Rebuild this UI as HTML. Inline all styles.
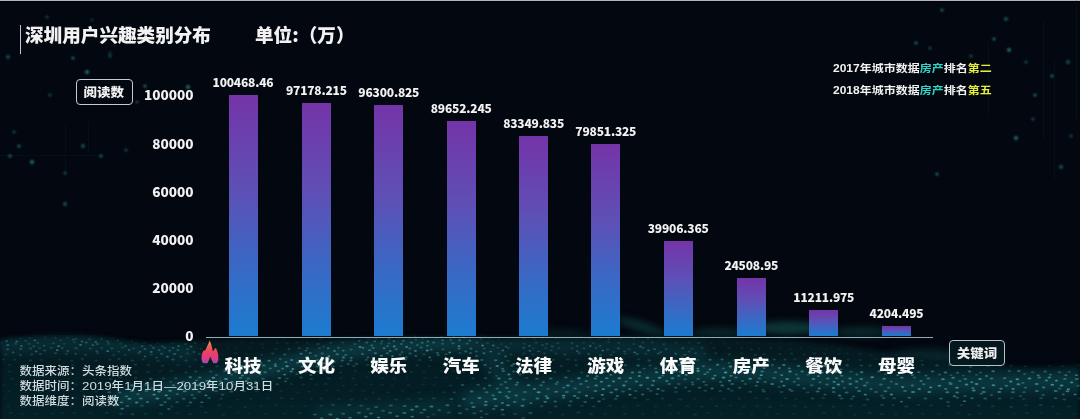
<!DOCTYPE html>
<html><head><meta charset="utf-8">
<style>
html,body{margin:0;padding:0;}
body{width:1080px;height:419px;overflow:hidden;position:relative;background:#03070f;font-family:"Liberation Sans","Noto Sans CJK SC",sans-serif;color:#fff;}
.a{position:absolute;white-space:nowrap;}
#topline{left:0;top:0;width:1080px;height:1px;background:#b2b6be;}
#topline2{left:0;top:1px;width:1080px;height:1px;background:#000;}
#wave{left:0;top:280px;width:1080px;height:139px;}
#vline{left:20px;top:25px;width:1px;height:29px;background:#c4c8cc;}
.title{font-family:"Noto Sans CJK SC",sans-serif;font-weight:900;font-size:18.6px;color:#f2f2f2;line-height:1;}
.box{border:1.5px solid #c6cbcf;border-radius:4px;box-sizing:border-box;font-family:"Noto Sans CJK SC",sans-serif;font-weight:900;font-size:13.5px;color:#f0f0f0;text-align:center;}
.yl{font-family:"Noto Sans CJK SC",sans-serif;font-weight:900;font-size:13.6px;color:#f2f2f2;text-align:right;width:80px;line-height:16px;transform:scaleY(0.95);}
.bar{width:29px;background:linear-gradient(to bottom,#7434a8 0%,#5e50b6 40%,#3a68c4 70%,#1c7cd0 100%);}
.vl{font-family:"Noto Sans CJK SC",sans-serif;font-weight:900;font-size:12px;letter-spacing:-0.2px;color:#f2f2f2;text-align:center;width:100px;line-height:14px;}
.xl{font-family:"Noto Sans CJK SC",sans-serif;font-weight:900;font-size:18.5px;color:#fafafa;text-align:center;width:72px;line-height:20px;transform:scaleY(0.92);transform-origin:50% 0;}
.leg{font-family:"Liberation Sans","Noto Sans CJK SC",sans-serif;font-weight:700;font-size:12px;color:#f2f2f2;line-height:14px;transform:scaleY(0.86);transform-origin:0 50%;}
.bt{display:inline-block;transform:scale(1.0,0.92);}
.cy{color:#2fd4c6}.yw{color:#e4ee3c}
.src{font-family:"Liberation Sans","Noto Sans CJK SC",sans-serif;font-weight:500;font-size:12.5px;color:#d2dde0;line-height:15px;transform:scaleY(0.88);transform-origin:0 50%;}
.src .d{font-size:13.3px;}
#axis{left:206px;top:336.5px;width:726.5px;height:1.5px;background:#92aab4;}
</style></head><body>
<div class="a" id="topline"></div>
<div class="a" id="topline2"></div>

<svg class="a" id="wave" width="1080" height="139" viewBox="0 280 1080 139">
  <defs>
    <filter id="bl" color-interpolation-filters="sRGB" x="-10%" y="-50%" width="120%" height="200%"><feGaussianBlur stdDeviation="2.5"/></filter>
    <filter id="bl2" color-interpolation-filters="sRGB" x="-10%" y="-50%" width="120%" height="200%"><feGaussianBlur stdDeviation="6"/></filter>
    <filter id="bl4" color-interpolation-filters="sRGB" x="-30%" y="-100%" width="160%" height="300%"><feGaussianBlur stdDeviation="3.5"/></filter>
    <filter id="bl3" color-interpolation-filters="sRGB" x="-2%" y="-5%" width="104%" height="110%"><feGaussianBlur stdDeviation="0.7"/></filter>
    <mask id="mk">
      <g filter="url(#bl)">
        <path d="M0 340 C20 336 50 334 80 335 C105 336 120 342 150 344 C180 343 200 339 260 338 C400 338 520 338 600 336 C680 334 780 338 840 345 C900 354 960 364 1020 367 C1050 368 1070 366 1080 365 L1080 440 L0 440 Z" fill="#fff" fill-opacity="0.85"/>
      </g>
    </mask>
    <linearGradient id="bg2" x1="0" y1="0" x2="0" y2="1"><stop offset="0" stop-color="#05191f"/><stop offset="0.5" stop-color="#041d24"/><stop offset="1" stop-color="#04222a"/></linearGradient>
  </defs>
  <g filter="url(#bl4)">
    <ellipse cx="642" cy="327" rx="26" ry="5" fill="#0b2e31" transform="rotate(18 642 327)"/>
    <ellipse cx="718" cy="333" rx="26" ry="4.5" fill="#0a2a2e"/>
    <ellipse cx="788" cy="328" rx="32" ry="6.5" fill="#0d3838"/>
    <ellipse cx="862" cy="332" rx="28" ry="5" fill="#0a2a2e"/>
    <ellipse cx="560" cy="334" rx="30" ry="4" fill="#081f24"/>
    <ellipse cx="925" cy="358" rx="40" ry="9" fill="#08252b"/>
  </g>
  <g filter="url(#bl)">
    <path d="M0 340 C20 336 50 334 80 335 C105 336 120 342 150 344 C180 343 200 339 260 338 C400 338 520 338 600 336 C680 334 780 338 840 345 C900 354 960 364 1020 367 C1050 368 1070 366 1080 365 L1080 440 L0 440 Z" fill="url(#bg2)"/>
  </g>
  <g filter="url(#bl2)" mask="url(#mk)">
<path d="M0 346 C60 341 120 343 190 352" fill="none" stroke="#0a3038" stroke-width="16" stroke-linecap="round"/>
<path d="M380 346 C440 343 500 346 560 347 C610 346 650 348 700 352" fill="none" stroke="#0a3038" stroke-width="14" stroke-linecap="round"/>
<path d="M120 398 C200 388 260 370 330 354 C380 345 430 342 470 342" fill="none" stroke="#0e3e46" stroke-width="16" stroke-linecap="round"/>
<path d="M480 342 C495 360 505 380 520 402" fill="none" stroke="#0a3038" stroke-width="20" stroke-linecap="round"/>
<path d="M320 413 C360 411 400 409 450 406" fill="none" stroke="#0c3a40" stroke-width="8" stroke-linecap="round"/>
<path d="M470 400 C540 392 620 380 700 372 C760 370 820 380 900 385 C960 384 1020 381 1080 382" fill="none" stroke="#0d3c44" stroke-width="18" stroke-linecap="round"/>
  </g>
  <g mask="url(#mk)"><g filter="url(#bl3)" fill="#48a6a8">
<ellipse cx="5.2" cy="333.8" rx="1.5" ry="1.0" fill-opacity="0.14"/>
<ellipse cx="16.4" cy="332.4" rx="1.5" ry="1.0" fill-opacity="0.14"/>
<ellipse cx="28.8" cy="332.2" rx="1.5" ry="1.0" fill-opacity="0.12"/>
<ellipse cx="38.0" cy="333.4" rx="1.5" ry="1.0" fill-opacity="0.11"/>
<ellipse cx="51.8" cy="333.3" rx="1.5" ry="1.0" fill-opacity="0.17"/>
<ellipse cx="57.5" cy="333.1" rx="1.5" ry="1.0" fill-opacity="0.11"/>
<ellipse cx="68.0" cy="332.1" rx="1.5" ry="1.0" fill-opacity="0.14"/>
<ellipse cx="81.1" cy="333.0" rx="1.5" ry="1.0" fill-opacity="0.17"/>
<ellipse cx="91.4" cy="332.9" rx="1.5" ry="1.0" fill-opacity="0.13"/>
<ellipse cx="105.9" cy="333.7" rx="1.5" ry="1.0" fill-opacity="0.17"/>
<ellipse cx="113.1" cy="332.6" rx="1.5" ry="1.0" fill-opacity="0.10"/>
<ellipse cx="125.9" cy="333.7" rx="1.5" ry="1.0" fill-opacity="0.13"/>
<ellipse cx="140.7" cy="332.0" rx="1.5" ry="1.0" fill-opacity="0.09"/>
<ellipse cx="152.0" cy="334.0" rx="1.5" ry="1.0" fill-opacity="0.11"/>
<ellipse cx="161.8" cy="333.6" rx="1.5" ry="1.0" fill-opacity="0.09"/>
<ellipse cx="169.8" cy="333.9" rx="1.5" ry="1.0" fill-opacity="0.12"/>
<ellipse cx="178.7" cy="332.2" rx="1.5" ry="1.0" fill-opacity="0.06"/>
<ellipse cx="190.8" cy="333.1" rx="1.5" ry="1.0" fill-opacity="0.08"/>
<ellipse cx="202.6" cy="332.3" rx="1.5" ry="1.0" fill-opacity="0.07"/>
<ellipse cx="210.7" cy="332.4" rx="1.5" ry="1.0" fill-opacity="0.05"/>
<ellipse cx="225.3" cy="332.6" rx="1.5" ry="1.0" fill-opacity="0.06"/>
<ellipse cx="233.4" cy="333.7" rx="1.5" ry="1.0" fill-opacity="0.06"/>
<ellipse cx="245.0" cy="332.4" rx="1.5" ry="1.0" fill-opacity="0.04"/>
<ellipse cx="254.6" cy="332.6" rx="1.5" ry="1.0" fill-opacity="0.04"/>
<ellipse cx="264.8" cy="332.5" rx="1.5" ry="1.0" fill-opacity="0.05"/>
<ellipse cx="274.7" cy="333.9" rx="1.5" ry="1.0" fill-opacity="0.05"/>
<ellipse cx="287.7" cy="332.4" rx="1.5" ry="1.0" fill-opacity="0.04"/>
<ellipse cx="300.3" cy="332.5" rx="1.5" ry="1.0" fill-opacity="0.05"/>
<ellipse cx="312.8" cy="332.4" rx="1.5" ry="1.0" fill-opacity="0.09"/>
<ellipse cx="324.2" cy="332.8" rx="1.5" ry="1.0" fill-opacity="0.06"/>
<ellipse cx="334.6" cy="332.5" rx="1.5" ry="1.0" fill-opacity="0.10"/>
<ellipse cx="344.0" cy="333.2" rx="1.5" ry="1.0" fill-opacity="0.10"/>
<ellipse cx="353.1" cy="332.1" rx="1.5" ry="1.0" fill-opacity="0.09"/>
<ellipse cx="364.9" cy="333.2" rx="1.5" ry="1.0" fill-opacity="0.13"/>
<ellipse cx="375.1" cy="332.0" rx="1.5" ry="1.0" fill-opacity="0.12"/>
<ellipse cx="385.3" cy="332.4" rx="1.5" ry="1.0" fill-opacity="0.15"/>
<ellipse cx="396.9" cy="332.7" rx="1.5" ry="1.0" fill-opacity="0.24"/>
<ellipse cx="410.9" cy="333.2" rx="1.5" ry="1.0" fill-opacity="0.16"/>
<ellipse cx="415.4" cy="336.1" rx="1.3" ry="0.9" fill-opacity="0.60"/>
<ellipse cx="421.2" cy="333.3" rx="1.5" ry="1.0" fill-opacity="0.23"/>
<ellipse cx="426.4" cy="336.3" rx="1.3" ry="0.9" fill-opacity="0.39"/>
<ellipse cx="435.3" cy="333.8" rx="1.5" ry="1.0" fill-opacity="0.29"/>
<ellipse cx="441.4" cy="336.7" rx="1.3" ry="0.9" fill-opacity="0.53"/>
<ellipse cx="447.8" cy="333.7" rx="1.5" ry="1.0" fill-opacity="0.24"/>
<ellipse cx="454.0" cy="336.3" rx="1.3" ry="0.9" fill-opacity="0.65"/>
<ellipse cx="457.0" cy="333.2" rx="1.5" ry="1.0" fill-opacity="0.18"/>
<ellipse cx="463.4" cy="336.1" rx="1.3" ry="0.9" fill-opacity="0.68"/>
<ellipse cx="468.1" cy="333.2" rx="1.5" ry="1.0" fill-opacity="0.24"/>
<ellipse cx="477.3" cy="332.1" rx="1.5" ry="1.0" fill-opacity="0.22"/>
<ellipse cx="482.3" cy="334.8" rx="1.3" ry="0.9" fill-opacity="0.51"/>
<ellipse cx="489.5" cy="332.5" rx="1.5" ry="1.0" fill-opacity="0.12"/>
<ellipse cx="498.6" cy="332.4" rx="1.5" ry="1.0" fill-opacity="0.09"/>
<ellipse cx="511.4" cy="332.9" rx="1.5" ry="1.0" fill-opacity="0.13"/>
<ellipse cx="521.6" cy="332.4" rx="1.5" ry="1.0" fill-opacity="0.09"/>
<ellipse cx="535.0" cy="333.8" rx="1.5" ry="1.0" fill-opacity="0.10"/>
<ellipse cx="543.9" cy="332.3" rx="1.5" ry="1.0" fill-opacity="0.09"/>
<ellipse cx="558.6" cy="333.4" rx="1.5" ry="1.0" fill-opacity="0.13"/>
<ellipse cx="565.8" cy="332.9" rx="1.5" ry="1.0" fill-opacity="0.08"/>
<ellipse cx="576.6" cy="333.3" rx="1.5" ry="1.0" fill-opacity="0.10"/>
<ellipse cx="588.5" cy="334.0" rx="1.5" ry="1.0" fill-opacity="0.10"/>
<ellipse cx="594.4" cy="333.7" rx="1.5" ry="1.0" fill-opacity="0.07"/>
<ellipse cx="608.4" cy="332.6" rx="1.5" ry="1.0" fill-opacity="0.11"/>
<ellipse cx="615.6" cy="332.9" rx="1.5" ry="1.0" fill-opacity="0.06"/>
<ellipse cx="628.4" cy="332.3" rx="1.5" ry="1.0" fill-opacity="0.06"/>
<ellipse cx="640.8" cy="333.3" rx="1.5" ry="1.0" fill-opacity="0.10"/>
<ellipse cx="655.2" cy="333.4" rx="1.5" ry="1.0" fill-opacity="0.07"/>
<ellipse cx="663.0" cy="332.0" rx="1.5" ry="1.0" fill-opacity="0.07"/>
<ellipse cx="675.0" cy="332.5" rx="1.5" ry="1.0" fill-opacity="0.07"/>
<ellipse cx="688.2" cy="333.2" rx="1.5" ry="1.0" fill-opacity="0.08"/>
<ellipse cx="699.8" cy="333.8" rx="1.5" ry="1.0" fill-opacity="0.05"/>
<ellipse cx="712.4" cy="332.3" rx="1.5" ry="1.0" fill-opacity="0.05"/>
<ellipse cx="724.7" cy="332.8" rx="1.5" ry="1.0" fill-opacity="0.05"/>
<ellipse cx="736.9" cy="333.9" rx="1.5" ry="1.0" fill-opacity="0.05"/>
<ellipse cx="746.2" cy="333.4" rx="1.5" ry="1.0" fill-opacity="0.06"/>
<ellipse cx="759.9" cy="332.4" rx="1.5" ry="1.0" fill-opacity="0.06"/>
<ellipse cx="774.1" cy="333.1" rx="1.5" ry="1.0" fill-opacity="0.06"/>
<ellipse cx="784.0" cy="333.7" rx="1.5" ry="1.0" fill-opacity="0.05"/>
<ellipse cx="791.3" cy="333.1" rx="1.5" ry="1.0" fill-opacity="0.06"/>
<ellipse cx="800.6" cy="333.6" rx="1.5" ry="1.0" fill-opacity="0.04"/>
<ellipse cx="813.5" cy="332.7" rx="1.5" ry="1.0" fill-opacity="0.06"/>
<ellipse cx="822.8" cy="333.0" rx="1.5" ry="1.0" fill-opacity="0.06"/>
<ellipse cx="837.5" cy="333.9" rx="1.5" ry="1.0" fill-opacity="0.05"/>
<ellipse cx="848.0" cy="332.4" rx="1.5" ry="1.0" fill-opacity="0.05"/>
<ellipse cx="860.7" cy="333.3" rx="1.5" ry="1.0" fill-opacity="0.05"/>
<ellipse cx="872.5" cy="332.6" rx="1.5" ry="1.0" fill-opacity="0.05"/>
<ellipse cx="886.4" cy="332.4" rx="1.5" ry="1.0" fill-opacity="0.06"/>
<ellipse cx="898.0" cy="333.1" rx="1.5" ry="1.0" fill-opacity="0.04"/>
<ellipse cx="909.0" cy="333.2" rx="1.5" ry="1.0" fill-opacity="0.03"/>
<ellipse cx="922.2" cy="332.8" rx="1.5" ry="1.0" fill-opacity="0.06"/>
<ellipse cx="933.3" cy="333.4" rx="1.5" ry="1.0" fill-opacity="0.04"/>
<ellipse cx="944.2" cy="333.9" rx="1.5" ry="1.0" fill-opacity="0.06"/>
<ellipse cx="954.4" cy="332.3" rx="1.5" ry="1.0" fill-opacity="0.05"/>
<ellipse cx="968.5" cy="333.0" rx="1.5" ry="1.0" fill-opacity="0.04"/>
<ellipse cx="977.0" cy="333.9" rx="1.5" ry="1.0" fill-opacity="0.04"/>
<ellipse cx="986.9" cy="332.4" rx="1.5" ry="1.0" fill-opacity="0.04"/>
<ellipse cx="999.9" cy="332.7" rx="1.5" ry="1.0" fill-opacity="0.05"/>
<ellipse cx="1010.8" cy="332.2" rx="1.5" ry="1.0" fill-opacity="0.05"/>
<ellipse cx="1018.6" cy="333.1" rx="1.5" ry="1.0" fill-opacity="0.05"/>
<ellipse cx="1029.9" cy="333.1" rx="1.5" ry="1.0" fill-opacity="0.04"/>
<ellipse cx="1040.4" cy="333.3" rx="1.5" ry="1.0" fill-opacity="0.05"/>
<ellipse cx="1052.9" cy="333.7" rx="1.5" ry="1.0" fill-opacity="0.04"/>
<ellipse cx="1065.8" cy="333.8" rx="1.5" ry="1.0" fill-opacity="0.04"/>
<ellipse cx="1076.4" cy="332.4" rx="1.5" ry="1.0" fill-opacity="0.07"/>
<ellipse cx="0.5" cy="338.5" rx="1.5" ry="1.0" fill-opacity="0.17"/>
<ellipse cx="6.7" cy="341.0" rx="1.3" ry="0.9" fill-opacity="0.56"/>
<ellipse cx="10.7" cy="338.4" rx="1.5" ry="1.0" fill-opacity="0.14"/>
<ellipse cx="16.6" cy="341.4" rx="1.3" ry="0.9" fill-opacity="0.62"/>
<ellipse cx="20.6" cy="338.5" rx="1.5" ry="1.0" fill-opacity="0.21"/>
<ellipse cx="25.6" cy="340.7" rx="1.3" ry="0.9" fill-opacity="0.36"/>
<ellipse cx="29.9" cy="338.0" rx="1.5" ry="1.0" fill-opacity="0.22"/>
<ellipse cx="34.9" cy="340.3" rx="1.3" ry="0.9" fill-opacity="0.60"/>
<ellipse cx="44.9" cy="337.2" rx="1.5" ry="1.0" fill-opacity="0.14"/>
<ellipse cx="55.3" cy="337.7" rx="1.5" ry="1.0" fill-opacity="0.21"/>
<ellipse cx="60.7" cy="340.3" rx="1.3" ry="0.9" fill-opacity="0.33"/>
<ellipse cx="67.7" cy="337.4" rx="1.5" ry="1.0" fill-opacity="0.20"/>
<ellipse cx="73.2" cy="339.6" rx="1.3" ry="0.9" fill-opacity="0.38"/>
<ellipse cx="75.7" cy="338.8" rx="1.5" ry="1.0" fill-opacity="0.27"/>
<ellipse cx="82.0" cy="341.5" rx="1.3" ry="0.9" fill-opacity="0.47"/>
<ellipse cx="89.3" cy="339.0" rx="1.5" ry="1.0" fill-opacity="0.27"/>
<ellipse cx="95.8" cy="341.8" rx="1.3" ry="0.9" fill-opacity="0.60"/>
<ellipse cx="101.6" cy="338.8" rx="1.5" ry="1.0" fill-opacity="0.28"/>
<ellipse cx="107.7" cy="341.6" rx="1.3" ry="0.9" fill-opacity="0.47"/>
<ellipse cx="112.5" cy="337.7" rx="1.5" ry="1.0" fill-opacity="0.19"/>
<ellipse cx="117.8" cy="340.4" rx="1.3" ry="0.9" fill-opacity="0.51"/>
<ellipse cx="126.0" cy="338.3" rx="1.5" ry="1.0" fill-opacity="0.18"/>
<ellipse cx="131.8" cy="341.0" rx="1.3" ry="0.9" fill-opacity="0.44"/>
<ellipse cx="138.3" cy="338.4" rx="1.5" ry="1.0" fill-opacity="0.23"/>
<ellipse cx="149.2" cy="338.2" rx="1.5" ry="1.0" fill-opacity="0.21"/>
<ellipse cx="160.8" cy="337.1" rx="1.5" ry="1.0" fill-opacity="0.12"/>
<ellipse cx="170.3" cy="337.5" rx="1.5" ry="1.0" fill-opacity="0.19"/>
<ellipse cx="183.4" cy="338.9" rx="1.5" ry="1.0" fill-opacity="0.16"/>
<ellipse cx="197.4" cy="338.6" rx="1.5" ry="1.0" fill-opacity="0.09"/>
<ellipse cx="209.5" cy="337.1" rx="1.5" ry="1.0" fill-opacity="0.08"/>
<ellipse cx="218.1" cy="337.3" rx="1.5" ry="1.0" fill-opacity="0.05"/>
<ellipse cx="228.2" cy="338.9" rx="1.5" ry="1.0" fill-opacity="0.05"/>
<ellipse cx="241.7" cy="337.7" rx="1.5" ry="1.0" fill-opacity="0.05"/>
<ellipse cx="253.5" cy="337.6" rx="1.5" ry="1.0" fill-opacity="0.06"/>
<ellipse cx="261.6" cy="337.5" rx="1.5" ry="1.0" fill-opacity="0.04"/>
<ellipse cx="274.2" cy="337.8" rx="1.5" ry="1.0" fill-opacity="0.08"/>
<ellipse cx="283.8" cy="339.0" rx="1.5" ry="1.0" fill-opacity="0.10"/>
<ellipse cx="296.5" cy="337.9" rx="1.5" ry="1.0" fill-opacity="0.08"/>
<ellipse cx="307.2" cy="338.0" rx="1.5" ry="1.0" fill-opacity="0.12"/>
<ellipse cx="320.3" cy="339.0" rx="1.5" ry="1.0" fill-opacity="0.17"/>
<ellipse cx="330.6" cy="338.2" rx="1.5" ry="1.0" fill-opacity="0.16"/>
<ellipse cx="340.3" cy="338.1" rx="1.5" ry="1.0" fill-opacity="0.13"/>
<ellipse cx="353.7" cy="337.9" rx="1.5" ry="1.0" fill-opacity="0.18"/>
<ellipse cx="359.2" cy="340.8" rx="1.3" ry="0.9" fill-opacity="0.50"/>
<ellipse cx="368.3" cy="338.5" rx="1.5" ry="1.0" fill-opacity="0.21"/>
<ellipse cx="374.7" cy="341.3" rx="1.3" ry="0.9" fill-opacity="0.61"/>
<ellipse cx="376.2" cy="338.4" rx="1.5" ry="1.0" fill-opacity="0.28"/>
<ellipse cx="382.1" cy="341.2" rx="1.3" ry="0.9" fill-opacity="0.47"/>
<ellipse cx="389.1" cy="338.8" rx="1.5" ry="1.0" fill-opacity="0.39"/>
<ellipse cx="393.9" cy="341.2" rx="1.3" ry="0.9" fill-opacity="0.61"/>
<ellipse cx="397.4" cy="338.1" rx="1.5" ry="1.0" fill-opacity="0.21"/>
<ellipse cx="403.4" cy="340.7" rx="1.3" ry="0.9" fill-opacity="0.69"/>
<ellipse cx="409.6" cy="337.4" rx="1.5" ry="1.0" fill-opacity="0.27"/>
<ellipse cx="415.9" cy="339.6" rx="1.3" ry="0.9" fill-opacity="0.48"/>
<ellipse cx="422.8" cy="338.5" rx="1.5" ry="1.0" fill-opacity="0.27"/>
<ellipse cx="427.9" cy="341.4" rx="1.3" ry="0.9" fill-opacity="0.63"/>
<ellipse cx="436.2" cy="337.7" rx="1.5" ry="1.0" fill-opacity="0.33"/>
<ellipse cx="442.6" cy="340.2" rx="1.3" ry="0.9" fill-opacity="0.63"/>
<ellipse cx="445.1" cy="337.2" rx="1.5" ry="1.0" fill-opacity="0.23"/>
<ellipse cx="450.7" cy="339.9" rx="1.3" ry="0.9" fill-opacity="0.60"/>
<ellipse cx="454.4" cy="337.4" rx="1.5" ry="1.0" fill-opacity="0.36"/>
<ellipse cx="459.6" cy="340.2" rx="1.3" ry="0.9" fill-opacity="0.79"/>
<ellipse cx="464.9" cy="337.7" rx="1.5" ry="1.0" fill-opacity="0.38"/>
<ellipse cx="469.8" cy="340.5" rx="1.3" ry="0.9" fill-opacity="0.74"/>
<ellipse cx="481.2" cy="338.8" rx="1.5" ry="1.0" fill-opacity="0.28"/>
<ellipse cx="489.1" cy="337.8" rx="1.5" ry="1.0" fill-opacity="0.30"/>
<ellipse cx="499.4" cy="337.7" rx="1.5" ry="1.0" fill-opacity="0.14"/>
<ellipse cx="510.2" cy="337.4" rx="1.5" ry="1.0" fill-opacity="0.16"/>
<ellipse cx="523.4" cy="338.7" rx="1.5" ry="1.0" fill-opacity="0.18"/>
<ellipse cx="534.1" cy="338.8" rx="1.5" ry="1.0" fill-opacity="0.14"/>
<ellipse cx="542.2" cy="338.1" rx="1.5" ry="1.0" fill-opacity="0.16"/>
<ellipse cx="556.1" cy="338.6" rx="1.5" ry="1.0" fill-opacity="0.11"/>
<ellipse cx="568.1" cy="337.2" rx="1.5" ry="1.0" fill-opacity="0.10"/>
<ellipse cx="580.8" cy="337.2" rx="1.5" ry="1.0" fill-opacity="0.15"/>
<ellipse cx="589.8" cy="338.3" rx="1.5" ry="1.0" fill-opacity="0.13"/>
<ellipse cx="599.9" cy="338.0" rx="1.5" ry="1.0" fill-opacity="0.18"/>
<ellipse cx="608.9" cy="338.9" rx="1.5" ry="1.0" fill-opacity="0.18"/>
<ellipse cx="620.9" cy="338.4" rx="1.5" ry="1.0" fill-opacity="0.17"/>
<ellipse cx="633.5" cy="338.7" rx="1.5" ry="1.0" fill-opacity="0.17"/>
<ellipse cx="647.9" cy="338.7" rx="1.5" ry="1.0" fill-opacity="0.18"/>
<ellipse cx="660.5" cy="338.0" rx="1.5" ry="1.0" fill-opacity="0.15"/>
<ellipse cx="672.3" cy="337.8" rx="1.5" ry="1.0" fill-opacity="0.09"/>
<ellipse cx="686.9" cy="337.8" rx="1.5" ry="1.0" fill-opacity="0.08"/>
<ellipse cx="694.5" cy="337.6" rx="1.5" ry="1.0" fill-opacity="0.13"/>
<ellipse cx="703.3" cy="337.2" rx="1.5" ry="1.0" fill-opacity="0.10"/>
<ellipse cx="715.2" cy="337.1" rx="1.5" ry="1.0" fill-opacity="0.06"/>
<ellipse cx="729.8" cy="337.1" rx="1.5" ry="1.0" fill-opacity="0.04"/>
<ellipse cx="736.8" cy="337.5" rx="1.5" ry="1.0" fill-opacity="0.07"/>
<ellipse cx="748.5" cy="337.4" rx="1.5" ry="1.0" fill-opacity="0.05"/>
<ellipse cx="760.4" cy="337.6" rx="1.5" ry="1.0" fill-opacity="0.06"/>
<ellipse cx="771.9" cy="337.5" rx="1.5" ry="1.0" fill-opacity="0.07"/>
<ellipse cx="784.5" cy="338.1" rx="1.5" ry="1.0" fill-opacity="0.07"/>
<ellipse cx="795.1" cy="337.1" rx="1.5" ry="1.0" fill-opacity="0.07"/>
<ellipse cx="808.4" cy="338.1" rx="1.5" ry="1.0" fill-opacity="0.06"/>
<ellipse cx="821.0" cy="338.3" rx="1.5" ry="1.0" fill-opacity="0.05"/>
<ellipse cx="828.0" cy="337.7" rx="1.5" ry="1.0" fill-opacity="0.07"/>
<ellipse cx="840.7" cy="337.3" rx="1.5" ry="1.0" fill-opacity="0.04"/>
<ellipse cx="849.8" cy="338.7" rx="1.5" ry="1.0" fill-opacity="0.06"/>
<ellipse cx="864.6" cy="337.5" rx="1.5" ry="1.0" fill-opacity="0.06"/>
<ellipse cx="873.3" cy="337.0" rx="1.5" ry="1.0" fill-opacity="0.06"/>
<ellipse cx="886.3" cy="337.2" rx="1.5" ry="1.0" fill-opacity="0.04"/>
<ellipse cx="895.6" cy="338.0" rx="1.5" ry="1.0" fill-opacity="0.05"/>
<ellipse cx="910.9" cy="338.7" rx="1.5" ry="1.0" fill-opacity="0.05"/>
<ellipse cx="922.7" cy="338.8" rx="1.5" ry="1.0" fill-opacity="0.04"/>
<ellipse cx="934.6" cy="338.1" rx="1.5" ry="1.0" fill-opacity="0.06"/>
<ellipse cx="946.8" cy="337.6" rx="1.5" ry="1.0" fill-opacity="0.05"/>
<ellipse cx="954.0" cy="337.9" rx="1.5" ry="1.0" fill-opacity="0.06"/>
<ellipse cx="966.1" cy="337.2" rx="1.5" ry="1.0" fill-opacity="0.05"/>
<ellipse cx="978.3" cy="338.7" rx="1.5" ry="1.0" fill-opacity="0.06"/>
<ellipse cx="985.0" cy="338.4" rx="1.5" ry="1.0" fill-opacity="0.05"/>
<ellipse cx="996.8" cy="337.0" rx="1.5" ry="1.0" fill-opacity="0.07"/>
<ellipse cx="1008.4" cy="338.2" rx="1.5" ry="1.0" fill-opacity="0.05"/>
<ellipse cx="1020.4" cy="337.6" rx="1.5" ry="1.0" fill-opacity="0.05"/>
<ellipse cx="1031.7" cy="337.5" rx="1.5" ry="1.0" fill-opacity="0.04"/>
<ellipse cx="1042.6" cy="338.9" rx="1.5" ry="1.0" fill-opacity="0.06"/>
<ellipse cx="1054.8" cy="338.7" rx="1.5" ry="1.0" fill-opacity="0.04"/>
<ellipse cx="1063.5" cy="338.4" rx="1.5" ry="1.0" fill-opacity="0.06"/>
<ellipse cx="1074.5" cy="338.7" rx="1.5" ry="1.0" fill-opacity="0.06"/>
<ellipse cx="1.2" cy="342.4" rx="1.6" ry="1.0" fill-opacity="0.25"/>
<ellipse cx="7.8" cy="345.0" rx="1.4" ry="0.9" fill-opacity="0.52"/>
<ellipse cx="15.8" cy="343.8" rx="1.6" ry="1.0" fill-opacity="0.27"/>
<ellipse cx="21.4" cy="346.0" rx="1.4" ry="0.9" fill-opacity="0.50"/>
<ellipse cx="29.1" cy="343.8" rx="1.6" ry="1.0" fill-opacity="0.32"/>
<ellipse cx="33.8" cy="346.3" rx="1.4" ry="0.9" fill-opacity="0.48"/>
<ellipse cx="37.7" cy="342.9" rx="1.6" ry="1.0" fill-opacity="0.28"/>
<ellipse cx="44.1" cy="345.7" rx="1.4" ry="0.9" fill-opacity="0.41"/>
<ellipse cx="53.6" cy="343.3" rx="1.6" ry="1.0" fill-opacity="0.26"/>
<ellipse cx="58.6" cy="346.2" rx="1.4" ry="0.9" fill-opacity="0.71"/>
<ellipse cx="64.4" cy="343.8" rx="1.6" ry="1.0" fill-opacity="0.23"/>
<ellipse cx="74.4" cy="342.3" rx="1.6" ry="1.0" fill-opacity="0.23"/>
<ellipse cx="80.5" cy="344.8" rx="1.4" ry="0.9" fill-opacity="0.69"/>
<ellipse cx="86.3" cy="342.4" rx="1.6" ry="1.0" fill-opacity="0.37"/>
<ellipse cx="92.8" cy="345.1" rx="1.4" ry="0.9" fill-opacity="0.56"/>
<ellipse cx="97.2" cy="344.0" rx="1.6" ry="1.0" fill-opacity="0.39"/>
<ellipse cx="108.6" cy="343.8" rx="1.6" ry="1.0" fill-opacity="0.25"/>
<ellipse cx="120.7" cy="343.8" rx="1.6" ry="1.0" fill-opacity="0.23"/>
<ellipse cx="125.6" cy="346.0" rx="1.4" ry="0.9" fill-opacity="0.42"/>
<ellipse cx="135.9" cy="343.5" rx="1.6" ry="1.0" fill-opacity="0.24"/>
<ellipse cx="142.1" cy="346.1" rx="1.4" ry="0.9" fill-opacity="0.56"/>
<ellipse cx="145.1" cy="342.6" rx="1.6" ry="1.0" fill-opacity="0.26"/>
<ellipse cx="150.6" cy="345.3" rx="1.4" ry="0.9" fill-opacity="0.40"/>
<ellipse cx="157.6" cy="343.3" rx="1.6" ry="1.0" fill-opacity="0.23"/>
<ellipse cx="162.4" cy="346.2" rx="1.4" ry="0.9" fill-opacity="0.38"/>
<ellipse cx="172.5" cy="343.1" rx="1.6" ry="1.0" fill-opacity="0.23"/>
<ellipse cx="178.6" cy="346.0" rx="1.4" ry="0.9" fill-opacity="0.55"/>
<ellipse cx="185.5" cy="343.9" rx="1.6" ry="1.0" fill-opacity="0.30"/>
<ellipse cx="191.1" cy="346.6" rx="1.4" ry="0.9" fill-opacity="0.59"/>
<ellipse cx="195.2" cy="343.0" rx="1.6" ry="1.0" fill-opacity="0.25"/>
<ellipse cx="204.0" cy="343.6" rx="1.6" ry="1.0" fill-opacity="0.17"/>
<ellipse cx="218.7" cy="343.7" rx="1.6" ry="1.0" fill-opacity="0.06"/>
<ellipse cx="228.5" cy="342.4" rx="1.6" ry="1.0" fill-opacity="0.06"/>
<ellipse cx="241.3" cy="342.3" rx="1.6" ry="1.0" fill-opacity="0.08"/>
<ellipse cx="252.3" cy="342.8" rx="1.6" ry="1.0" fill-opacity="0.07"/>
<ellipse cx="261.8" cy="344.0" rx="1.6" ry="1.0" fill-opacity="0.11"/>
<ellipse cx="277.3" cy="343.0" rx="1.6" ry="1.0" fill-opacity="0.12"/>
<ellipse cx="287.0" cy="343.3" rx="1.6" ry="1.0" fill-opacity="0.15"/>
<ellipse cx="296.8" cy="342.4" rx="1.6" ry="1.0" fill-opacity="0.14"/>
<ellipse cx="307.2" cy="342.7" rx="1.6" ry="1.0" fill-opacity="0.15"/>
<ellipse cx="318.1" cy="344.0" rx="1.6" ry="1.0" fill-opacity="0.30"/>
<ellipse cx="323.5" cy="346.7" rx="1.4" ry="0.9" fill-opacity="0.33"/>
<ellipse cx="330.8" cy="342.8" rx="1.6" ry="1.0" fill-opacity="0.27"/>
<ellipse cx="342.7" cy="342.6" rx="1.6" ry="1.0" fill-opacity="0.27"/>
<ellipse cx="354.9" cy="343.9" rx="1.6" ry="1.0" fill-opacity="0.35"/>
<ellipse cx="360.0" cy="346.9" rx="1.4" ry="0.9" fill-opacity="0.89"/>
<ellipse cx="366.8" cy="342.6" rx="1.6" ry="1.0" fill-opacity="0.47"/>
<ellipse cx="371.7" cy="345.5" rx="1.4" ry="0.9" fill-opacity="0.59"/>
<ellipse cx="381.0" cy="343.6" rx="1.6" ry="1.0" fill-opacity="0.32"/>
<ellipse cx="387.6" cy="346.2" rx="1.4" ry="0.9" fill-opacity="0.52"/>
<ellipse cx="389.0" cy="343.6" rx="1.6" ry="1.0" fill-opacity="0.35"/>
<ellipse cx="394.2" cy="346.4" rx="1.4" ry="0.9" fill-opacity="0.88"/>
<ellipse cx="401.3" cy="343.9" rx="1.6" ry="1.0" fill-opacity="0.47"/>
<ellipse cx="406.6" cy="347.0" rx="1.4" ry="0.9" fill-opacity="0.83"/>
<ellipse cx="411.6" cy="342.4" rx="1.6" ry="1.0" fill-opacity="0.55"/>
<ellipse cx="417.4" cy="345.1" rx="1.4" ry="0.9" fill-opacity="0.52"/>
<ellipse cx="422.1" cy="342.7" rx="1.6" ry="1.0" fill-opacity="0.51"/>
<ellipse cx="427.4" cy="345.6" rx="1.4" ry="0.9" fill-opacity="0.62"/>
<ellipse cx="433.7" cy="342.5" rx="1.6" ry="1.0" fill-opacity="0.54"/>
<ellipse cx="442.6" cy="343.7" rx="1.6" ry="1.0" fill-opacity="0.40"/>
<ellipse cx="453.0" cy="343.3" rx="1.6" ry="1.0" fill-opacity="0.47"/>
<ellipse cx="459.0" cy="346.2" rx="1.4" ry="0.9" fill-opacity="0.75"/>
<ellipse cx="467.2" cy="343.5" rx="1.6" ry="1.0" fill-opacity="0.44"/>
<ellipse cx="476.9" cy="342.5" rx="1.6" ry="1.0" fill-opacity="0.38"/>
<ellipse cx="482.5" cy="345.5" rx="1.4" ry="0.9" fill-opacity="0.77"/>
<ellipse cx="487.5" cy="343.2" rx="1.6" ry="1.0" fill-opacity="0.26"/>
<ellipse cx="493.2" cy="345.4" rx="1.4" ry="0.9" fill-opacity="0.63"/>
<ellipse cx="501.3" cy="343.9" rx="1.6" ry="1.0" fill-opacity="0.20"/>
<ellipse cx="506.1" cy="346.6" rx="1.4" ry="0.9" fill-opacity="0.46"/>
<ellipse cx="511.3" cy="343.8" rx="1.6" ry="1.0" fill-opacity="0.18"/>
<ellipse cx="524.2" cy="343.8" rx="1.6" ry="1.0" fill-opacity="0.21"/>
<ellipse cx="529.5" cy="346.0" rx="1.4" ry="0.9" fill-opacity="0.42"/>
<ellipse cx="536.1" cy="342.7" rx="1.6" ry="1.0" fill-opacity="0.24"/>
<ellipse cx="542.5" cy="345.1" rx="1.4" ry="0.9" fill-opacity="0.39"/>
<ellipse cx="546.7" cy="343.8" rx="1.6" ry="1.0" fill-opacity="0.29"/>
<ellipse cx="552.3" cy="346.4" rx="1.4" ry="0.9" fill-opacity="0.38"/>
<ellipse cx="557.8" cy="343.2" rx="1.6" ry="1.0" fill-opacity="0.27"/>
<ellipse cx="571.9" cy="343.1" rx="1.6" ry="1.0" fill-opacity="0.27"/>
<ellipse cx="577.1" cy="346.2" rx="1.4" ry="0.9" fill-opacity="0.35"/>
<ellipse cx="583.5" cy="343.0" rx="1.6" ry="1.0" fill-opacity="0.17"/>
<ellipse cx="590.2" cy="346.0" rx="1.4" ry="0.9" fill-opacity="0.54"/>
<ellipse cx="593.5" cy="343.3" rx="1.6" ry="1.0" fill-opacity="0.20"/>
<ellipse cx="600.1" cy="345.8" rx="1.4" ry="0.9" fill-opacity="0.42"/>
<ellipse cx="608.6" cy="342.3" rx="1.6" ry="1.0" fill-opacity="0.21"/>
<ellipse cx="618.6" cy="342.9" rx="1.6" ry="1.0" fill-opacity="0.26"/>
<ellipse cx="633.9" cy="343.9" rx="1.6" ry="1.0" fill-opacity="0.23"/>
<ellipse cx="640.3" cy="346.5" rx="1.4" ry="0.9" fill-opacity="0.55"/>
<ellipse cx="643.0" cy="342.5" rx="1.6" ry="1.0" fill-opacity="0.22"/>
<ellipse cx="652.4" cy="342.6" rx="1.6" ry="1.0" fill-opacity="0.20"/>
<ellipse cx="664.0" cy="344.2" rx="1.6" ry="1.0" fill-opacity="0.26"/>
<ellipse cx="676.1" cy="342.9" rx="1.6" ry="1.0" fill-opacity="0.14"/>
<ellipse cx="689.1" cy="342.7" rx="1.6" ry="1.0" fill-opacity="0.12"/>
<ellipse cx="698.7" cy="343.0" rx="1.6" ry="1.0" fill-opacity="0.23"/>
<ellipse cx="711.2" cy="342.9" rx="1.6" ry="1.0" fill-opacity="0.09"/>
<ellipse cx="725.1" cy="343.7" rx="1.6" ry="1.0" fill-opacity="0.10"/>
<ellipse cx="737.0" cy="342.8" rx="1.6" ry="1.0" fill-opacity="0.07"/>
<ellipse cx="750.1" cy="342.8" rx="1.6" ry="1.0" fill-opacity="0.09"/>
<ellipse cx="758.3" cy="343.0" rx="1.6" ry="1.0" fill-opacity="0.06"/>
<ellipse cx="768.1" cy="343.4" rx="1.6" ry="1.0" fill-opacity="0.05"/>
<ellipse cx="779.8" cy="343.3" rx="1.6" ry="1.0" fill-opacity="0.06"/>
<ellipse cx="791.5" cy="343.6" rx="1.6" ry="1.0" fill-opacity="0.08"/>
<ellipse cx="801.2" cy="342.7" rx="1.6" ry="1.0" fill-opacity="0.08"/>
<ellipse cx="812.9" cy="343.9" rx="1.6" ry="1.0" fill-opacity="0.06"/>
<ellipse cx="823.3" cy="342.6" rx="1.6" ry="1.0" fill-opacity="0.05"/>
<ellipse cx="833.7" cy="343.3" rx="1.6" ry="1.0" fill-opacity="0.08"/>
<ellipse cx="846.0" cy="343.5" rx="1.6" ry="1.0" fill-opacity="0.09"/>
<ellipse cx="857.8" cy="343.5" rx="1.6" ry="1.0" fill-opacity="0.09"/>
<ellipse cx="869.1" cy="343.4" rx="1.6" ry="1.0" fill-opacity="0.05"/>
<ellipse cx="880.9" cy="342.3" rx="1.6" ry="1.0" fill-opacity="0.06"/>
<ellipse cx="892.0" cy="342.7" rx="1.6" ry="1.0" fill-opacity="0.05"/>
<ellipse cx="902.9" cy="342.5" rx="1.6" ry="1.0" fill-opacity="0.07"/>
<ellipse cx="911.7" cy="342.9" rx="1.6" ry="1.0" fill-opacity="0.06"/>
<ellipse cx="923.5" cy="343.6" rx="1.6" ry="1.0" fill-opacity="0.07"/>
<ellipse cx="933.7" cy="343.0" rx="1.6" ry="1.0" fill-opacity="0.06"/>
<ellipse cx="944.7" cy="342.3" rx="1.6" ry="1.0" fill-opacity="0.06"/>
<ellipse cx="956.8" cy="342.8" rx="1.6" ry="1.0" fill-opacity="0.05"/>
<ellipse cx="965.6" cy="344.0" rx="1.6" ry="1.0" fill-opacity="0.07"/>
<ellipse cx="977.2" cy="342.5" rx="1.6" ry="1.0" fill-opacity="0.06"/>
<ellipse cx="990.4" cy="342.9" rx="1.6" ry="1.0" fill-opacity="0.07"/>
<ellipse cx="1003.2" cy="343.4" rx="1.6" ry="1.0" fill-opacity="0.07"/>
<ellipse cx="1012.8" cy="342.7" rx="1.6" ry="1.0" fill-opacity="0.08"/>
<ellipse cx="1025.9" cy="344.0" rx="1.6" ry="1.0" fill-opacity="0.05"/>
<ellipse cx="1036.2" cy="342.8" rx="1.6" ry="1.0" fill-opacity="0.06"/>
<ellipse cx="1048.4" cy="342.6" rx="1.6" ry="1.0" fill-opacity="0.05"/>
<ellipse cx="1061.1" cy="342.2" rx="1.6" ry="1.0" fill-opacity="0.07"/>
<ellipse cx="1072.1" cy="343.2" rx="1.6" ry="1.0" fill-opacity="0.07"/>
<ellipse cx="7.6" cy="349.2" rx="1.6" ry="1.0" fill-opacity="0.42"/>
<ellipse cx="13.1" cy="352.3" rx="1.4" ry="0.9" fill-opacity="0.45"/>
<ellipse cx="20.8" cy="348.9" rx="1.6" ry="1.0" fill-opacity="0.41"/>
<ellipse cx="30.7" cy="348.5" rx="1.6" ry="1.0" fill-opacity="0.33"/>
<ellipse cx="36.1" cy="351.5" rx="1.4" ry="0.9" fill-opacity="0.52"/>
<ellipse cx="39.7" cy="348.2" rx="1.6" ry="1.0" fill-opacity="0.24"/>
<ellipse cx="44.8" cy="350.5" rx="1.4" ry="0.9" fill-opacity="0.36"/>
<ellipse cx="51.3" cy="347.8" rx="1.6" ry="1.0" fill-opacity="0.30"/>
<ellipse cx="57.2" cy="350.2" rx="1.4" ry="0.9" fill-opacity="0.64"/>
<ellipse cx="62.2" cy="348.0" rx="1.6" ry="1.0" fill-opacity="0.31"/>
<ellipse cx="67.8" cy="351.0" rx="1.4" ry="0.9" fill-opacity="0.42"/>
<ellipse cx="76.0" cy="348.2" rx="1.6" ry="1.0" fill-opacity="0.36"/>
<ellipse cx="90.2" cy="348.4" rx="1.6" ry="1.0" fill-opacity="0.35"/>
<ellipse cx="96.8" cy="351.4" rx="1.4" ry="0.9" fill-opacity="0.38"/>
<ellipse cx="101.8" cy="348.0" rx="1.6" ry="1.0" fill-opacity="0.25"/>
<ellipse cx="107.8" cy="351.2" rx="1.4" ry="0.9" fill-opacity="0.68"/>
<ellipse cx="111.9" cy="348.4" rx="1.6" ry="1.0" fill-opacity="0.34"/>
<ellipse cx="118.6" cy="351.6" rx="1.4" ry="0.9" fill-opacity="0.36"/>
<ellipse cx="122.3" cy="347.6" rx="1.6" ry="1.0" fill-opacity="0.27"/>
<ellipse cx="129.2" cy="350.0" rx="1.4" ry="0.9" fill-opacity="0.47"/>
<ellipse cx="133.5" cy="348.5" rx="1.6" ry="1.0" fill-opacity="0.30"/>
<ellipse cx="140.0" cy="351.6" rx="1.4" ry="0.9" fill-opacity="0.45"/>
<ellipse cx="145.0" cy="349.1" rx="1.6" ry="1.0" fill-opacity="0.44"/>
<ellipse cx="151.3" cy="351.9" rx="1.4" ry="0.9" fill-opacity="0.64"/>
<ellipse cx="153.3" cy="347.7" rx="1.6" ry="1.0" fill-opacity="0.42"/>
<ellipse cx="159.2" cy="350.1" rx="1.4" ry="0.9" fill-opacity="0.48"/>
<ellipse cx="164.4" cy="347.8" rx="1.6" ry="1.0" fill-opacity="0.36"/>
<ellipse cx="169.7" cy="350.6" rx="1.4" ry="0.9" fill-opacity="0.49"/>
<ellipse cx="172.9" cy="347.7" rx="1.6" ry="1.0" fill-opacity="0.40"/>
<ellipse cx="177.9" cy="350.1" rx="1.4" ry="0.9" fill-opacity="0.52"/>
<ellipse cx="187.6" cy="349.3" rx="1.6" ry="1.0" fill-opacity="0.33"/>
<ellipse cx="194.0" cy="351.9" rx="1.4" ry="0.9" fill-opacity="0.37"/>
<ellipse cx="201.3" cy="348.8" rx="1.6" ry="1.0" fill-opacity="0.18"/>
<ellipse cx="215.9" cy="349.5" rx="1.6" ry="1.0" fill-opacity="0.09"/>
<ellipse cx="228.7" cy="347.9" rx="1.6" ry="1.0" fill-opacity="0.06"/>
<ellipse cx="236.4" cy="347.7" rx="1.6" ry="1.0" fill-opacity="0.08"/>
<ellipse cx="250.1" cy="348.6" rx="1.6" ry="1.0" fill-opacity="0.07"/>
<ellipse cx="263.1" cy="347.6" rx="1.6" ry="1.0" fill-opacity="0.12"/>
<ellipse cx="275.6" cy="349.0" rx="1.6" ry="1.0" fill-opacity="0.17"/>
<ellipse cx="288.9" cy="349.1" rx="1.6" ry="1.0" fill-opacity="0.33"/>
<ellipse cx="299.2" cy="348.3" rx="1.6" ry="1.0" fill-opacity="0.32"/>
<ellipse cx="305.9" cy="350.6" rx="1.4" ry="0.9" fill-opacity="0.50"/>
<ellipse cx="307.4" cy="348.3" rx="1.6" ry="1.0" fill-opacity="0.36"/>
<ellipse cx="319.5" cy="348.2" rx="1.6" ry="1.0" fill-opacity="0.33"/>
<ellipse cx="328.2" cy="348.2" rx="1.6" ry="1.0" fill-opacity="0.51"/>
<ellipse cx="334.5" cy="351.0" rx="1.4" ry="0.9" fill-opacity="0.75"/>
<ellipse cx="338.4" cy="347.8" rx="1.6" ry="1.0" fill-opacity="0.41"/>
<ellipse cx="343.3" cy="350.6" rx="1.4" ry="0.9" fill-opacity="0.65"/>
<ellipse cx="351.1" cy="349.4" rx="1.6" ry="1.0" fill-opacity="0.41"/>
<ellipse cx="362.8" cy="347.7" rx="1.6" ry="1.0" fill-opacity="0.66"/>
<ellipse cx="369.6" cy="350.2" rx="1.4" ry="0.9" fill-opacity="0.70"/>
<ellipse cx="373.2" cy="348.1" rx="1.6" ry="1.0" fill-opacity="0.56"/>
<ellipse cx="384.1" cy="348.2" rx="1.6" ry="1.0" fill-opacity="0.65"/>
<ellipse cx="390.2" cy="350.9" rx="1.4" ry="0.9" fill-opacity="0.80"/>
<ellipse cx="396.2" cy="349.3" rx="1.6" ry="1.0" fill-opacity="0.60"/>
<ellipse cx="402.1" cy="352.1" rx="1.4" ry="0.9" fill-opacity="0.53"/>
<ellipse cx="409.8" cy="348.4" rx="1.6" ry="1.0" fill-opacity="0.52"/>
<ellipse cx="415.4" cy="350.9" rx="1.4" ry="0.9" fill-opacity="0.75"/>
<ellipse cx="421.2" cy="347.6" rx="1.6" ry="1.0" fill-opacity="0.50"/>
<ellipse cx="427.2" cy="350.5" rx="1.4" ry="0.9" fill-opacity="0.91"/>
<ellipse cx="431.1" cy="349.5" rx="1.6" ry="1.0" fill-opacity="0.51"/>
<ellipse cx="437.4" cy="352.8" rx="1.4" ry="0.9" fill-opacity="0.61"/>
<ellipse cx="443.1" cy="349.5" rx="1.6" ry="1.0" fill-opacity="0.43"/>
<ellipse cx="449.7" cy="352.4" rx="1.4" ry="0.9" fill-opacity="0.82"/>
<ellipse cx="459.1" cy="348.6" rx="1.6" ry="1.0" fill-opacity="0.57"/>
<ellipse cx="465.7" cy="351.5" rx="1.4" ry="0.9" fill-opacity="0.55"/>
<ellipse cx="470.9" cy="348.6" rx="1.6" ry="1.0" fill-opacity="0.54"/>
<ellipse cx="476.3" cy="351.5" rx="1.4" ry="0.9" fill-opacity="0.47"/>
<ellipse cx="484.2" cy="348.5" rx="1.6" ry="1.0" fill-opacity="0.33"/>
<ellipse cx="490.8" cy="351.6" rx="1.4" ry="0.9" fill-opacity="0.64"/>
<ellipse cx="497.9" cy="347.8" rx="1.6" ry="1.0" fill-opacity="0.28"/>
<ellipse cx="502.8" cy="350.4" rx="1.4" ry="0.9" fill-opacity="0.63"/>
<ellipse cx="508.4" cy="347.9" rx="1.6" ry="1.0" fill-opacity="0.26"/>
<ellipse cx="523.8" cy="347.7" rx="1.6" ry="1.0" fill-opacity="0.38"/>
<ellipse cx="530.0" cy="350.8" rx="1.4" ry="0.9" fill-opacity="0.56"/>
<ellipse cx="533.2" cy="348.4" rx="1.6" ry="1.0" fill-opacity="0.19"/>
<ellipse cx="538.7" cy="351.3" rx="1.4" ry="0.9" fill-opacity="0.41"/>
<ellipse cx="545.5" cy="347.9" rx="1.6" ry="1.0" fill-opacity="0.21"/>
<ellipse cx="551.3" cy="350.3" rx="1.4" ry="0.9" fill-opacity="0.36"/>
<ellipse cx="559.0" cy="348.2" rx="1.6" ry="1.0" fill-opacity="0.23"/>
<ellipse cx="572.1" cy="348.2" rx="1.6" ry="1.0" fill-opacity="0.25"/>
<ellipse cx="577.3" cy="351.2" rx="1.4" ry="0.9" fill-opacity="0.46"/>
<ellipse cx="584.0" cy="348.4" rx="1.6" ry="1.0" fill-opacity="0.29"/>
<ellipse cx="596.2" cy="348.0" rx="1.6" ry="1.0" fill-opacity="0.30"/>
<ellipse cx="602.8" cy="350.6" rx="1.4" ry="0.9" fill-opacity="0.60"/>
<ellipse cx="607.7" cy="349.4" rx="1.6" ry="1.0" fill-opacity="0.27"/>
<ellipse cx="613.8" cy="352.1" rx="1.4" ry="0.9" fill-opacity="0.34"/>
<ellipse cx="618.4" cy="348.4" rx="1.6" ry="1.0" fill-opacity="0.37"/>
<ellipse cx="624.6" cy="351.4" rx="1.4" ry="0.9" fill-opacity="0.40"/>
<ellipse cx="629.1" cy="349.3" rx="1.6" ry="1.0" fill-opacity="0.25"/>
<ellipse cx="634.7" cy="352.4" rx="1.4" ry="0.9" fill-opacity="0.59"/>
<ellipse cx="642.9" cy="347.7" rx="1.6" ry="1.0" fill-opacity="0.36"/>
<ellipse cx="648.5" cy="350.4" rx="1.4" ry="0.9" fill-opacity="0.56"/>
<ellipse cx="654.6" cy="349.3" rx="1.6" ry="1.0" fill-opacity="0.39"/>
<ellipse cx="660.7" cy="352.1" rx="1.4" ry="0.9" fill-opacity="0.44"/>
<ellipse cx="666.1" cy="348.9" rx="1.6" ry="1.0" fill-opacity="0.31"/>
<ellipse cx="682.7" cy="348.3" rx="1.6" ry="1.0" fill-opacity="0.35"/>
<ellipse cx="689.0" cy="351.6" rx="1.4" ry="0.9" fill-opacity="0.34"/>
<ellipse cx="691.9" cy="348.8" rx="1.6" ry="1.0" fill-opacity="0.23"/>
<ellipse cx="702.1" cy="347.8" rx="1.6" ry="1.0" fill-opacity="0.24"/>
<ellipse cx="713.9" cy="347.9" rx="1.6" ry="1.0" fill-opacity="0.15"/>
<ellipse cx="728.8" cy="348.0" rx="1.6" ry="1.0" fill-opacity="0.16"/>
<ellipse cx="741.7" cy="347.8" rx="1.6" ry="1.0" fill-opacity="0.12"/>
<ellipse cx="751.5" cy="349.4" rx="1.6" ry="1.0" fill-opacity="0.18"/>
<ellipse cx="759.0" cy="348.6" rx="1.6" ry="1.0" fill-opacity="0.13"/>
<ellipse cx="770.6" cy="348.1" rx="1.6" ry="1.0" fill-opacity="0.11"/>
<ellipse cx="779.7" cy="347.8" rx="1.6" ry="1.0" fill-opacity="0.08"/>
<ellipse cx="790.4" cy="349.1" rx="1.6" ry="1.0" fill-opacity="0.09"/>
<ellipse cx="800.7" cy="348.0" rx="1.6" ry="1.0" fill-opacity="0.09"/>
<ellipse cx="814.4" cy="349.2" rx="1.6" ry="1.0" fill-opacity="0.07"/>
<ellipse cx="826.5" cy="349.5" rx="1.6" ry="1.0" fill-opacity="0.10"/>
<ellipse cx="839.6" cy="349.3" rx="1.6" ry="1.0" fill-opacity="0.12"/>
<ellipse cx="848.5" cy="347.8" rx="1.6" ry="1.0" fill-opacity="0.10"/>
<ellipse cx="864.2" cy="347.8" rx="1.6" ry="1.0" fill-opacity="0.08"/>
<ellipse cx="871.3" cy="348.1" rx="1.6" ry="1.0" fill-opacity="0.11"/>
<ellipse cx="886.6" cy="347.6" rx="1.6" ry="1.0" fill-opacity="0.07"/>
<ellipse cx="894.0" cy="347.8" rx="1.6" ry="1.0" fill-opacity="0.10"/>
<ellipse cx="905.8" cy="348.8" rx="1.6" ry="1.0" fill-opacity="0.10"/>
<ellipse cx="920.0" cy="348.5" rx="1.6" ry="1.0" fill-opacity="0.10"/>
<ellipse cx="930.1" cy="349.0" rx="1.6" ry="1.0" fill-opacity="0.07"/>
<ellipse cx="941.7" cy="348.5" rx="1.6" ry="1.0" fill-opacity="0.07"/>
<ellipse cx="953.2" cy="347.6" rx="1.6" ry="1.0" fill-opacity="0.10"/>
<ellipse cx="963.2" cy="348.6" rx="1.6" ry="1.0" fill-opacity="0.08"/>
<ellipse cx="971.9" cy="348.3" rx="1.6" ry="1.0" fill-opacity="0.07"/>
<ellipse cx="984.1" cy="349.0" rx="1.6" ry="1.0" fill-opacity="0.08"/>
<ellipse cx="994.2" cy="349.5" rx="1.6" ry="1.0" fill-opacity="0.06"/>
<ellipse cx="1008.6" cy="348.3" rx="1.6" ry="1.0" fill-opacity="0.09"/>
<ellipse cx="1017.0" cy="348.7" rx="1.6" ry="1.0" fill-opacity="0.09"/>
<ellipse cx="1028.7" cy="348.6" rx="1.6" ry="1.0" fill-opacity="0.10"/>
<ellipse cx="1036.7" cy="348.0" rx="1.6" ry="1.0" fill-opacity="0.07"/>
<ellipse cx="1051.1" cy="349.2" rx="1.6" ry="1.0" fill-opacity="0.08"/>
<ellipse cx="1062.9" cy="347.7" rx="1.6" ry="1.0" fill-opacity="0.11"/>
<ellipse cx="1074.7" cy="348.2" rx="1.6" ry="1.0" fill-opacity="0.10"/>
<ellipse cx="5.9" cy="354.6" rx="1.7" ry="1.0" fill-opacity="0.21"/>
<ellipse cx="20.5" cy="354.9" rx="1.7" ry="1.0" fill-opacity="0.30"/>
<ellipse cx="31.7" cy="354.6" rx="1.7" ry="1.0" fill-opacity="0.28"/>
<ellipse cx="40.5" cy="353.9" rx="1.7" ry="1.0" fill-opacity="0.30"/>
<ellipse cx="55.5" cy="353.2" rx="1.7" ry="1.0" fill-opacity="0.32"/>
<ellipse cx="66.6" cy="353.8" rx="1.7" ry="1.0" fill-opacity="0.25"/>
<ellipse cx="75.7" cy="353.7" rx="1.7" ry="1.0" fill-opacity="0.31"/>
<ellipse cx="85.6" cy="354.7" rx="1.7" ry="1.0" fill-opacity="0.29"/>
<ellipse cx="97.8" cy="353.3" rx="1.7" ry="1.0" fill-opacity="0.24"/>
<ellipse cx="113.8" cy="354.9" rx="1.7" ry="1.0" fill-opacity="0.23"/>
<ellipse cx="125.3" cy="354.7" rx="1.7" ry="1.0" fill-opacity="0.22"/>
<ellipse cx="138.8" cy="353.1" rx="1.7" ry="1.0" fill-opacity="0.31"/>
<ellipse cx="145.1" cy="356.4" rx="1.4" ry="0.9" fill-opacity="0.48"/>
<ellipse cx="151.3" cy="354.6" rx="1.7" ry="1.0" fill-opacity="0.24"/>
<ellipse cx="156.6" cy="357.6" rx="1.4" ry="0.9" fill-opacity="0.38"/>
<ellipse cx="161.7" cy="353.8" rx="1.7" ry="1.0" fill-opacity="0.37"/>
<ellipse cx="167.4" cy="356.7" rx="1.4" ry="0.9" fill-opacity="0.61"/>
<ellipse cx="174.6" cy="354.0" rx="1.7" ry="1.0" fill-opacity="0.48"/>
<ellipse cx="181.0" cy="356.6" rx="1.4" ry="0.9" fill-opacity="0.44"/>
<ellipse cx="187.7" cy="353.6" rx="1.7" ry="1.0" fill-opacity="0.26"/>
<ellipse cx="199.7" cy="353.9" rx="1.7" ry="1.0" fill-opacity="0.30"/>
<ellipse cx="213.0" cy="354.9" rx="1.7" ry="1.0" fill-opacity="0.11"/>
<ellipse cx="221.9" cy="354.6" rx="1.7" ry="1.0" fill-opacity="0.09"/>
<ellipse cx="235.4" cy="353.1" rx="1.7" ry="1.0" fill-opacity="0.14"/>
<ellipse cx="246.5" cy="353.7" rx="1.7" ry="1.0" fill-opacity="0.13"/>
<ellipse cx="261.5" cy="354.7" rx="1.7" ry="1.0" fill-opacity="0.19"/>
<ellipse cx="272.7" cy="353.5" rx="1.7" ry="1.0" fill-opacity="0.29"/>
<ellipse cx="284.8" cy="354.6" rx="1.7" ry="1.0" fill-opacity="0.43"/>
<ellipse cx="301.1" cy="353.8" rx="1.7" ry="1.0" fill-opacity="0.63"/>
<ellipse cx="306.7" cy="357.0" rx="1.4" ry="0.9" fill-opacity="0.74"/>
<ellipse cx="310.2" cy="353.1" rx="1.7" ry="1.0" fill-opacity="0.51"/>
<ellipse cx="315.8" cy="355.7" rx="1.4" ry="0.9" fill-opacity="0.51"/>
<ellipse cx="322.2" cy="353.6" rx="1.7" ry="1.0" fill-opacity="0.48"/>
<ellipse cx="328.9" cy="356.2" rx="1.4" ry="0.9" fill-opacity="0.90"/>
<ellipse cx="337.2" cy="354.2" rx="1.7" ry="1.0" fill-opacity="0.67"/>
<ellipse cx="343.5" cy="357.4" rx="1.4" ry="0.9" fill-opacity="0.88"/>
<ellipse cx="345.8" cy="354.9" rx="1.7" ry="1.0" fill-opacity="0.52"/>
<ellipse cx="351.3" cy="357.8" rx="1.4" ry="0.9" fill-opacity="0.66"/>
<ellipse cx="362.5" cy="354.1" rx="1.7" ry="1.0" fill-opacity="0.55"/>
<ellipse cx="367.9" cy="357.4" rx="1.4" ry="0.9" fill-opacity="0.51"/>
<ellipse cx="375.4" cy="353.2" rx="1.7" ry="1.0" fill-opacity="0.64"/>
<ellipse cx="381.5" cy="355.7" rx="1.4" ry="0.9" fill-opacity="0.89"/>
<ellipse cx="387.3" cy="353.2" rx="1.7" ry="1.0" fill-opacity="0.52"/>
<ellipse cx="392.4" cy="356.1" rx="1.4" ry="0.9" fill-opacity="0.85"/>
<ellipse cx="400.1" cy="354.6" rx="1.7" ry="1.0" fill-opacity="0.42"/>
<ellipse cx="406.2" cy="357.2" rx="1.4" ry="0.9" fill-opacity="0.57"/>
<ellipse cx="410.0" cy="353.5" rx="1.7" ry="1.0" fill-opacity="0.47"/>
<ellipse cx="415.9" cy="355.9" rx="1.4" ry="0.9" fill-opacity="0.57"/>
<ellipse cx="424.1" cy="354.2" rx="1.7" ry="1.0" fill-opacity="0.28"/>
<ellipse cx="429.8" cy="357.3" rx="1.4" ry="0.9" fill-opacity="0.68"/>
<ellipse cx="438.3" cy="354.9" rx="1.7" ry="1.0" fill-opacity="0.42"/>
<ellipse cx="446.1" cy="354.3" rx="1.7" ry="1.0" fill-opacity="0.39"/>
<ellipse cx="452.4" cy="357.6" rx="1.4" ry="0.9" fill-opacity="0.36"/>
<ellipse cx="460.1" cy="353.1" rx="1.7" ry="1.0" fill-opacity="0.27"/>
<ellipse cx="470.5" cy="353.1" rx="1.7" ry="1.0" fill-opacity="0.44"/>
<ellipse cx="476.6" cy="356.1" rx="1.4" ry="0.9" fill-opacity="0.61"/>
<ellipse cx="483.9" cy="353.2" rx="1.7" ry="1.0" fill-opacity="0.52"/>
<ellipse cx="499.1" cy="353.7" rx="1.7" ry="1.0" fill-opacity="0.35"/>
<ellipse cx="505.6" cy="356.4" rx="1.4" ry="0.9" fill-opacity="0.58"/>
<ellipse cx="510.9" cy="354.4" rx="1.7" ry="1.0" fill-opacity="0.24"/>
<ellipse cx="523.8" cy="353.4" rx="1.7" ry="1.0" fill-opacity="0.20"/>
<ellipse cx="533.0" cy="354.6" rx="1.7" ry="1.0" fill-opacity="0.23"/>
<ellipse cx="544.4" cy="353.6" rx="1.7" ry="1.0" fill-opacity="0.27"/>
<ellipse cx="556.1" cy="353.4" rx="1.7" ry="1.0" fill-opacity="0.23"/>
<ellipse cx="564.9" cy="354.5" rx="1.7" ry="1.0" fill-opacity="0.30"/>
<ellipse cx="579.2" cy="353.2" rx="1.7" ry="1.0" fill-opacity="0.32"/>
<ellipse cx="588.6" cy="353.9" rx="1.7" ry="1.0" fill-opacity="0.36"/>
<ellipse cx="600.5" cy="354.9" rx="1.7" ry="1.0" fill-opacity="0.34"/>
<ellipse cx="611.1" cy="354.7" rx="1.7" ry="1.0" fill-opacity="0.31"/>
<ellipse cx="624.9" cy="353.8" rx="1.7" ry="1.0" fill-opacity="0.24"/>
<ellipse cx="637.2" cy="354.0" rx="1.7" ry="1.0" fill-opacity="0.35"/>
<ellipse cx="645.8" cy="353.8" rx="1.7" ry="1.0" fill-opacity="0.21"/>
<ellipse cx="658.4" cy="353.5" rx="1.7" ry="1.0" fill-opacity="0.38"/>
<ellipse cx="675.7" cy="353.8" rx="1.7" ry="1.0" fill-opacity="0.40"/>
<ellipse cx="682.1" cy="357.1" rx="1.4" ry="0.9" fill-opacity="0.37"/>
<ellipse cx="684.9" cy="354.8" rx="1.7" ry="1.0" fill-opacity="0.37"/>
<ellipse cx="695.5" cy="353.3" rx="1.7" ry="1.0" fill-opacity="0.28"/>
<ellipse cx="704.7" cy="353.8" rx="1.7" ry="1.0" fill-opacity="0.21"/>
<ellipse cx="715.7" cy="353.3" rx="1.7" ry="1.0" fill-opacity="0.23"/>
<ellipse cx="729.4" cy="354.6" rx="1.7" ry="1.0" fill-opacity="0.26"/>
<ellipse cx="741.6" cy="353.5" rx="1.7" ry="1.0" fill-opacity="0.16"/>
<ellipse cx="755.4" cy="354.9" rx="1.7" ry="1.0" fill-opacity="0.24"/>
<ellipse cx="764.0" cy="354.2" rx="1.7" ry="1.0" fill-opacity="0.19"/>
<ellipse cx="780.0" cy="354.0" rx="1.7" ry="1.0" fill-opacity="0.20"/>
<ellipse cx="791.6" cy="353.5" rx="1.7" ry="1.0" fill-opacity="0.21"/>
<ellipse cx="804.1" cy="354.6" rx="1.7" ry="1.0" fill-opacity="0.16"/>
<ellipse cx="814.5" cy="353.4" rx="1.7" ry="1.0" fill-opacity="0.17"/>
<ellipse cx="824.5" cy="353.5" rx="1.7" ry="1.0" fill-opacity="0.16"/>
<ellipse cx="839.0" cy="354.0" rx="1.7" ry="1.0" fill-opacity="0.10"/>
<ellipse cx="847.3" cy="353.2" rx="1.7" ry="1.0" fill-opacity="0.10"/>
<ellipse cx="860.1" cy="354.0" rx="1.7" ry="1.0" fill-opacity="0.13"/>
<ellipse cx="871.1" cy="354.8" rx="1.7" ry="1.0" fill-opacity="0.12"/>
<ellipse cx="883.4" cy="354.0" rx="1.7" ry="1.0" fill-opacity="0.10"/>
<ellipse cx="896.2" cy="354.9" rx="1.7" ry="1.0" fill-opacity="0.14"/>
<ellipse cx="909.7" cy="354.1" rx="1.7" ry="1.0" fill-opacity="0.14"/>
<ellipse cx="920.7" cy="354.5" rx="1.7" ry="1.0" fill-opacity="0.09"/>
<ellipse cx="933.0" cy="355.0" rx="1.7" ry="1.0" fill-opacity="0.10"/>
<ellipse cx="945.2" cy="353.8" rx="1.7" ry="1.0" fill-opacity="0.11"/>
<ellipse cx="958.1" cy="354.1" rx="1.7" ry="1.0" fill-opacity="0.10"/>
<ellipse cx="966.0" cy="353.6" rx="1.7" ry="1.0" fill-opacity="0.11"/>
<ellipse cx="978.5" cy="353.3" rx="1.7" ry="1.0" fill-opacity="0.10"/>
<ellipse cx="991.1" cy="355.0" rx="1.7" ry="1.0" fill-opacity="0.10"/>
<ellipse cx="1000.5" cy="354.7" rx="1.7" ry="1.0" fill-opacity="0.10"/>
<ellipse cx="1017.0" cy="353.6" rx="1.7" ry="1.0" fill-opacity="0.14"/>
<ellipse cx="1027.5" cy="354.2" rx="1.7" ry="1.0" fill-opacity="0.15"/>
<ellipse cx="1039.6" cy="353.7" rx="1.7" ry="1.0" fill-opacity="0.14"/>
<ellipse cx="1051.1" cy="353.5" rx="1.7" ry="1.0" fill-opacity="0.09"/>
<ellipse cx="1066.5" cy="355.0" rx="1.7" ry="1.0" fill-opacity="0.16"/>
<ellipse cx="1079.3" cy="354.5" rx="1.7" ry="1.0" fill-opacity="0.15"/>
<ellipse cx="3.4" cy="359.4" rx="1.7" ry="1.0" fill-opacity="0.20"/>
<ellipse cx="14.6" cy="359.8" rx="1.7" ry="1.0" fill-opacity="0.20"/>
<ellipse cx="30.6" cy="360.6" rx="1.7" ry="1.0" fill-opacity="0.25"/>
<ellipse cx="41.3" cy="360.1" rx="1.7" ry="1.0" fill-opacity="0.15"/>
<ellipse cx="59.2" cy="359.4" rx="1.7" ry="1.0" fill-opacity="0.16"/>
<ellipse cx="71.9" cy="360.8" rx="1.7" ry="1.0" fill-opacity="0.20"/>
<ellipse cx="82.2" cy="358.9" rx="1.7" ry="1.0" fill-opacity="0.26"/>
<ellipse cx="96.0" cy="360.6" rx="1.7" ry="1.0" fill-opacity="0.21"/>
<ellipse cx="109.8" cy="359.8" rx="1.7" ry="1.0" fill-opacity="0.20"/>
<ellipse cx="118.9" cy="359.1" rx="1.7" ry="1.0" fill-opacity="0.28"/>
<ellipse cx="132.4" cy="360.4" rx="1.7" ry="1.0" fill-opacity="0.26"/>
<ellipse cx="143.3" cy="359.4" rx="1.7" ry="1.0" fill-opacity="0.21"/>
<ellipse cx="157.8" cy="360.7" rx="1.7" ry="1.0" fill-opacity="0.24"/>
<ellipse cx="173.0" cy="359.4" rx="1.7" ry="1.0" fill-opacity="0.42"/>
<ellipse cx="186.1" cy="360.4" rx="1.7" ry="1.0" fill-opacity="0.30"/>
<ellipse cx="195.5" cy="359.8" rx="1.7" ry="1.0" fill-opacity="0.22"/>
<ellipse cx="209.5" cy="359.8" rx="1.7" ry="1.0" fill-opacity="0.18"/>
<ellipse cx="219.2" cy="360.0" rx="1.7" ry="1.0" fill-opacity="0.16"/>
<ellipse cx="230.1" cy="358.9" rx="1.7" ry="1.0" fill-opacity="0.19"/>
<ellipse cx="246.0" cy="360.1" rx="1.7" ry="1.0" fill-opacity="0.32"/>
<ellipse cx="254.9" cy="359.8" rx="1.7" ry="1.0" fill-opacity="0.51"/>
<ellipse cx="260.9" cy="362.9" rx="1.5" ry="0.9" fill-opacity="0.58"/>
<ellipse cx="269.1" cy="360.7" rx="1.7" ry="1.0" fill-opacity="0.67"/>
<ellipse cx="275.3" cy="364.1" rx="1.5" ry="0.9" fill-opacity="0.63"/>
<ellipse cx="280.3" cy="358.9" rx="1.7" ry="1.0" fill-opacity="0.41"/>
<ellipse cx="286.0" cy="362.1" rx="1.5" ry="0.9" fill-opacity="0.74"/>
<ellipse cx="291.7" cy="360.1" rx="1.7" ry="1.0" fill-opacity="0.73"/>
<ellipse cx="297.6" cy="362.7" rx="1.5" ry="0.9" fill-opacity="0.71"/>
<ellipse cx="306.6" cy="358.9" rx="1.7" ry="1.0" fill-opacity="0.45"/>
<ellipse cx="313.1" cy="361.8" rx="1.5" ry="0.9" fill-opacity="0.55"/>
<ellipse cx="317.2" cy="360.3" rx="1.7" ry="1.0" fill-opacity="0.59"/>
<ellipse cx="323.7" cy="363.4" rx="1.5" ry="0.9" fill-opacity="0.50"/>
<ellipse cx="328.7" cy="358.9" rx="1.7" ry="1.0" fill-opacity="0.58"/>
<ellipse cx="334.0" cy="361.8" rx="1.5" ry="0.9" fill-opacity="0.68"/>
<ellipse cx="342.3" cy="360.5" rx="1.7" ry="1.0" fill-opacity="0.51"/>
<ellipse cx="348.1" cy="364.0" rx="1.5" ry="0.9" fill-opacity="0.45"/>
<ellipse cx="350.7" cy="360.5" rx="1.7" ry="1.0" fill-opacity="0.47"/>
<ellipse cx="356.6" cy="363.9" rx="1.5" ry="0.9" fill-opacity="0.47"/>
<ellipse cx="366.3" cy="359.7" rx="1.7" ry="1.0" fill-opacity="0.38"/>
<ellipse cx="372.4" cy="362.5" rx="1.5" ry="0.9" fill-opacity="0.56"/>
<ellipse cx="376.5" cy="360.4" rx="1.7" ry="1.0" fill-opacity="0.35"/>
<ellipse cx="383.4" cy="363.3" rx="1.5" ry="0.9" fill-opacity="0.43"/>
<ellipse cx="393.4" cy="360.4" rx="1.7" ry="1.0" fill-opacity="0.29"/>
<ellipse cx="405.6" cy="359.4" rx="1.7" ry="1.0" fill-opacity="0.34"/>
<ellipse cx="419.7" cy="360.1" rx="1.7" ry="1.0" fill-opacity="0.25"/>
<ellipse cx="430.9" cy="360.3" rx="1.7" ry="1.0" fill-opacity="0.25"/>
<ellipse cx="446.0" cy="360.2" rx="1.7" ry="1.0" fill-opacity="0.16"/>
<ellipse cx="459.5" cy="359.3" rx="1.7" ry="1.0" fill-opacity="0.26"/>
<ellipse cx="468.9" cy="360.8" rx="1.7" ry="1.0" fill-opacity="0.18"/>
<ellipse cx="481.9" cy="360.0" rx="1.7" ry="1.0" fill-opacity="0.52"/>
<ellipse cx="495.7" cy="360.2" rx="1.7" ry="1.0" fill-opacity="0.61"/>
<ellipse cx="502.0" cy="362.9" rx="1.5" ry="0.9" fill-opacity="0.70"/>
<ellipse cx="508.1" cy="360.8" rx="1.7" ry="1.0" fill-opacity="0.29"/>
<ellipse cx="513.8" cy="364.0" rx="1.5" ry="0.9" fill-opacity="0.63"/>
<ellipse cx="519.3" cy="359.9" rx="1.7" ry="1.0" fill-opacity="0.20"/>
<ellipse cx="530.1" cy="360.6" rx="1.7" ry="1.0" fill-opacity="0.20"/>
<ellipse cx="542.1" cy="359.6" rx="1.7" ry="1.0" fill-opacity="0.15"/>
<ellipse cx="553.5" cy="359.9" rx="1.7" ry="1.0" fill-opacity="0.27"/>
<ellipse cx="568.0" cy="359.5" rx="1.7" ry="1.0" fill-opacity="0.24"/>
<ellipse cx="575.6" cy="360.2" rx="1.7" ry="1.0" fill-opacity="0.22"/>
<ellipse cx="589.7" cy="359.4" rx="1.7" ry="1.0" fill-opacity="0.19"/>
<ellipse cx="600.8" cy="359.6" rx="1.7" ry="1.0" fill-opacity="0.23"/>
<ellipse cx="612.4" cy="360.6" rx="1.7" ry="1.0" fill-opacity="0.27"/>
<ellipse cx="622.9" cy="359.0" rx="1.7" ry="1.0" fill-opacity="0.16"/>
<ellipse cx="638.8" cy="359.3" rx="1.7" ry="1.0" fill-opacity="0.24"/>
<ellipse cx="649.2" cy="360.4" rx="1.7" ry="1.0" fill-opacity="0.37"/>
<ellipse cx="662.7" cy="360.2" rx="1.7" ry="1.0" fill-opacity="0.30"/>
<ellipse cx="674.9" cy="359.8" rx="1.7" ry="1.0" fill-opacity="0.31"/>
<ellipse cx="689.2" cy="359.9" rx="1.7" ry="1.0" fill-opacity="0.42"/>
<ellipse cx="697.8" cy="360.0" rx="1.7" ry="1.0" fill-opacity="0.33"/>
<ellipse cx="710.1" cy="359.7" rx="1.7" ry="1.0" fill-opacity="0.52"/>
<ellipse cx="722.1" cy="359.5" rx="1.7" ry="1.0" fill-opacity="0.48"/>
<ellipse cx="729.0" cy="362.9" rx="1.5" ry="0.9" fill-opacity="0.43"/>
<ellipse cx="734.0" cy="360.2" rx="1.7" ry="1.0" fill-opacity="0.31"/>
<ellipse cx="739.2" cy="363.6" rx="1.5" ry="0.9" fill-opacity="0.55"/>
<ellipse cx="746.1" cy="358.9" rx="1.7" ry="1.0" fill-opacity="0.34"/>
<ellipse cx="761.9" cy="358.9" rx="1.7" ry="1.0" fill-opacity="0.26"/>
<ellipse cx="768.4" cy="361.6" rx="1.5" ry="0.9" fill-opacity="0.40"/>
<ellipse cx="774.3" cy="359.5" rx="1.7" ry="1.0" fill-opacity="0.34"/>
<ellipse cx="785.0" cy="359.5" rx="1.7" ry="1.0" fill-opacity="0.30"/>
<ellipse cx="794.9" cy="359.3" rx="1.7" ry="1.0" fill-opacity="0.20"/>
<ellipse cx="807.4" cy="359.3" rx="1.7" ry="1.0" fill-opacity="0.20"/>
<ellipse cx="820.9" cy="359.8" rx="1.7" ry="1.0" fill-opacity="0.23"/>
<ellipse cx="836.2" cy="360.1" rx="1.7" ry="1.0" fill-opacity="0.26"/>
<ellipse cx="848.3" cy="359.6" rx="1.7" ry="1.0" fill-opacity="0.19"/>
<ellipse cx="860.5" cy="359.9" rx="1.7" ry="1.0" fill-opacity="0.20"/>
<ellipse cx="875.8" cy="359.3" rx="1.7" ry="1.0" fill-opacity="0.11"/>
<ellipse cx="883.7" cy="360.4" rx="1.7" ry="1.0" fill-opacity="0.19"/>
<ellipse cx="895.5" cy="360.5" rx="1.7" ry="1.0" fill-opacity="0.21"/>
<ellipse cx="910.6" cy="360.3" rx="1.7" ry="1.0" fill-opacity="0.16"/>
<ellipse cx="921.8" cy="360.6" rx="1.7" ry="1.0" fill-opacity="0.23"/>
<ellipse cx="937.2" cy="359.0" rx="1.7" ry="1.0" fill-opacity="0.13"/>
<ellipse cx="950.6" cy="359.8" rx="1.7" ry="1.0" fill-opacity="0.15"/>
<ellipse cx="964.5" cy="360.8" rx="1.7" ry="1.0" fill-opacity="0.14"/>
<ellipse cx="977.2" cy="359.1" rx="1.7" ry="1.0" fill-opacity="0.15"/>
<ellipse cx="990.5" cy="359.9" rx="1.7" ry="1.0" fill-opacity="0.24"/>
<ellipse cx="1005.0" cy="360.0" rx="1.7" ry="1.0" fill-opacity="0.20"/>
<ellipse cx="1014.5" cy="360.6" rx="1.7" ry="1.0" fill-opacity="0.23"/>
<ellipse cx="1025.3" cy="359.9" rx="1.7" ry="1.0" fill-opacity="0.17"/>
<ellipse cx="1038.7" cy="358.8" rx="1.7" ry="1.0" fill-opacity="0.14"/>
<ellipse cx="1050.0" cy="359.0" rx="1.7" ry="1.0" fill-opacity="0.21"/>
<ellipse cx="1064.4" cy="359.9" rx="1.7" ry="1.0" fill-opacity="0.14"/>
<ellipse cx="1074.5" cy="360.4" rx="1.7" ry="1.0" fill-opacity="0.24"/>
<ellipse cx="-1.1" cy="366.3" rx="1.8" ry="1.0" fill-opacity="0.13"/>
<ellipse cx="9.9" cy="365.1" rx="1.8" ry="1.0" fill-opacity="0.17"/>
<ellipse cx="25.8" cy="365.3" rx="1.8" ry="1.0" fill-opacity="0.19"/>
<ellipse cx="38.0" cy="366.0" rx="1.8" ry="1.0" fill-opacity="0.20"/>
<ellipse cx="48.0" cy="365.5" rx="1.8" ry="1.0" fill-opacity="0.18"/>
<ellipse cx="59.9" cy="365.1" rx="1.8" ry="1.0" fill-opacity="0.15"/>
<ellipse cx="72.9" cy="365.3" rx="1.8" ry="1.0" fill-opacity="0.19"/>
<ellipse cx="85.6" cy="365.1" rx="1.8" ry="1.0" fill-opacity="0.13"/>
<ellipse cx="100.1" cy="366.1" rx="1.8" ry="1.0" fill-opacity="0.20"/>
<ellipse cx="112.6" cy="365.5" rx="1.8" ry="1.0" fill-opacity="0.19"/>
<ellipse cx="122.9" cy="365.7" rx="1.8" ry="1.0" fill-opacity="0.16"/>
<ellipse cx="135.5" cy="364.8" rx="1.8" ry="1.0" fill-opacity="0.25"/>
<ellipse cx="148.5" cy="365.0" rx="1.8" ry="1.0" fill-opacity="0.21"/>
<ellipse cx="162.5" cy="365.7" rx="1.8" ry="1.0" fill-opacity="0.21"/>
<ellipse cx="177.9" cy="365.2" rx="1.8" ry="1.0" fill-opacity="0.20"/>
<ellipse cx="189.6" cy="366.5" rx="1.8" ry="1.0" fill-opacity="0.18"/>
<ellipse cx="202.1" cy="366.4" rx="1.8" ry="1.0" fill-opacity="0.29"/>
<ellipse cx="217.0" cy="366.2" rx="1.8" ry="1.0" fill-opacity="0.25"/>
<ellipse cx="228.7" cy="365.1" rx="1.8" ry="1.0" fill-opacity="0.27"/>
<ellipse cx="235.8" cy="368.0" rx="1.5" ry="0.9" fill-opacity="0.34"/>
<ellipse cx="241.8" cy="365.9" rx="1.8" ry="1.0" fill-opacity="0.70"/>
<ellipse cx="247.3" cy="368.8" rx="1.5" ry="0.9" fill-opacity="0.46"/>
<ellipse cx="249.8" cy="366.0" rx="1.8" ry="1.0" fill-opacity="0.47"/>
<ellipse cx="256.1" cy="369.0" rx="1.5" ry="0.9" fill-opacity="0.48"/>
<ellipse cx="263.9" cy="365.5" rx="1.8" ry="1.0" fill-opacity="0.68"/>
<ellipse cx="270.4" cy="368.3" rx="1.5" ry="0.9" fill-opacity="0.63"/>
<ellipse cx="275.5" cy="365.9" rx="1.8" ry="1.0" fill-opacity="0.68"/>
<ellipse cx="282.6" cy="368.6" rx="1.5" ry="0.9" fill-opacity="0.68"/>
<ellipse cx="287.0" cy="366.2" rx="1.8" ry="1.0" fill-opacity="0.92"/>
<ellipse cx="292.8" cy="369.0" rx="1.5" ry="0.9" fill-opacity="0.85"/>
<ellipse cx="302.2" cy="366.6" rx="1.8" ry="1.0" fill-opacity="0.51"/>
<ellipse cx="309.2" cy="369.9" rx="1.5" ry="0.9" fill-opacity="0.49"/>
<ellipse cx="317.3" cy="366.5" rx="1.8" ry="1.0" fill-opacity="0.49"/>
<ellipse cx="324.5" cy="369.9" rx="1.5" ry="0.9" fill-opacity="0.61"/>
<ellipse cx="332.8" cy="366.4" rx="1.8" ry="1.0" fill-opacity="0.46"/>
<ellipse cx="341.2" cy="365.9" rx="1.8" ry="1.0" fill-opacity="0.29"/>
<ellipse cx="353.7" cy="366.0" rx="1.8" ry="1.0" fill-opacity="0.27"/>
<ellipse cx="367.6" cy="365.1" rx="1.8" ry="1.0" fill-opacity="0.27"/>
<ellipse cx="383.4" cy="365.3" rx="1.8" ry="1.0" fill-opacity="0.22"/>
<ellipse cx="393.7" cy="366.4" rx="1.8" ry="1.0" fill-opacity="0.16"/>
<ellipse cx="407.1" cy="364.7" rx="1.8" ry="1.0" fill-opacity="0.13"/>
<ellipse cx="417.1" cy="365.3" rx="1.8" ry="1.0" fill-opacity="0.24"/>
<ellipse cx="429.2" cy="366.2" rx="1.8" ry="1.0" fill-opacity="0.14"/>
<ellipse cx="444.3" cy="366.5" rx="1.8" ry="1.0" fill-opacity="0.20"/>
<ellipse cx="454.8" cy="365.5" rx="1.8" ry="1.0" fill-opacity="0.14"/>
<ellipse cx="469.1" cy="366.1" rx="1.8" ry="1.0" fill-opacity="0.16"/>
<ellipse cx="485.1" cy="365.1" rx="1.8" ry="1.0" fill-opacity="0.50"/>
<ellipse cx="490.4" cy="368.1" rx="1.5" ry="0.9" fill-opacity="0.41"/>
<ellipse cx="497.2" cy="366.1" rx="1.8" ry="1.0" fill-opacity="0.77"/>
<ellipse cx="502.6" cy="368.7" rx="1.5" ry="0.9" fill-opacity="0.60"/>
<ellipse cx="511.8" cy="365.8" rx="1.8" ry="1.0" fill-opacity="0.51"/>
<ellipse cx="517.3" cy="369.0" rx="1.5" ry="0.9" fill-opacity="0.32"/>
<ellipse cx="520.3" cy="365.1" rx="1.8" ry="1.0" fill-opacity="0.18"/>
<ellipse cx="533.4" cy="365.9" rx="1.8" ry="1.0" fill-opacity="0.20"/>
<ellipse cx="545.1" cy="366.1" rx="1.8" ry="1.0" fill-opacity="0.21"/>
<ellipse cx="561.3" cy="365.9" rx="1.8" ry="1.0" fill-opacity="0.26"/>
<ellipse cx="576.4" cy="365.3" rx="1.8" ry="1.0" fill-opacity="0.27"/>
<ellipse cx="587.6" cy="364.8" rx="1.8" ry="1.0" fill-opacity="0.24"/>
<ellipse cx="599.4" cy="365.8" rx="1.8" ry="1.0" fill-opacity="0.31"/>
<ellipse cx="607.9" cy="366.0" rx="1.8" ry="1.0" fill-opacity="0.39"/>
<ellipse cx="625.5" cy="365.3" rx="1.8" ry="1.0" fill-opacity="0.38"/>
<ellipse cx="638.1" cy="365.5" rx="1.8" ry="1.0" fill-opacity="0.57"/>
<ellipse cx="644.1" cy="368.6" rx="1.5" ry="0.9" fill-opacity="0.45"/>
<ellipse cx="650.1" cy="365.5" rx="1.8" ry="1.0" fill-opacity="0.35"/>
<ellipse cx="655.6" cy="368.3" rx="1.5" ry="0.9" fill-opacity="0.51"/>
<ellipse cx="666.0" cy="365.6" rx="1.8" ry="1.0" fill-opacity="0.47"/>
<ellipse cx="673.0" cy="368.4" rx="1.5" ry="0.9" fill-opacity="0.39"/>
<ellipse cx="679.3" cy="365.0" rx="1.8" ry="1.0" fill-opacity="0.43"/>
<ellipse cx="691.4" cy="366.1" rx="1.8" ry="1.0" fill-opacity="0.52"/>
<ellipse cx="697.9" cy="368.7" rx="1.5" ry="0.9" fill-opacity="0.86"/>
<ellipse cx="703.4" cy="366.3" rx="1.8" ry="1.0" fill-opacity="0.50"/>
<ellipse cx="710.0" cy="369.3" rx="1.5" ry="0.9" fill-opacity="0.88"/>
<ellipse cx="717.6" cy="364.8" rx="1.8" ry="1.0" fill-opacity="0.68"/>
<ellipse cx="723.5" cy="368.3" rx="1.5" ry="0.9" fill-opacity="0.54"/>
<ellipse cx="730.4" cy="366.6" rx="1.8" ry="1.0" fill-opacity="0.89"/>
<ellipse cx="736.3" cy="369.9" rx="1.5" ry="0.9" fill-opacity="0.88"/>
<ellipse cx="744.2" cy="365.7" rx="1.8" ry="1.0" fill-opacity="0.49"/>
<ellipse cx="751.4" cy="369.2" rx="1.5" ry="0.9" fill-opacity="0.56"/>
<ellipse cx="758.1" cy="365.1" rx="1.8" ry="1.0" fill-opacity="0.70"/>
<ellipse cx="764.1" cy="368.1" rx="1.5" ry="0.9" fill-opacity="0.72"/>
<ellipse cx="772.4" cy="365.0" rx="1.8" ry="1.0" fill-opacity="0.41"/>
<ellipse cx="779.3" cy="368.0" rx="1.5" ry="0.9" fill-opacity="0.67"/>
<ellipse cx="783.8" cy="365.1" rx="1.8" ry="1.0" fill-opacity="0.72"/>
<ellipse cx="789.3" cy="368.4" rx="1.5" ry="0.9" fill-opacity="0.63"/>
<ellipse cx="798.5" cy="366.0" rx="1.8" ry="1.0" fill-opacity="0.68"/>
<ellipse cx="810.1" cy="365.5" rx="1.8" ry="1.0" fill-opacity="0.45"/>
<ellipse cx="816.6" cy="368.4" rx="1.5" ry="0.9" fill-opacity="0.48"/>
<ellipse cx="825.0" cy="366.1" rx="1.8" ry="1.0" fill-opacity="0.57"/>
<ellipse cx="831.5" cy="368.9" rx="1.5" ry="0.9" fill-opacity="0.45"/>
<ellipse cx="835.5" cy="366.6" rx="1.8" ry="1.0" fill-opacity="0.39"/>
<ellipse cx="841.0" cy="369.3" rx="1.5" ry="0.9" fill-opacity="0.55"/>
<ellipse cx="847.1" cy="365.3" rx="1.8" ry="1.0" fill-opacity="0.43"/>
<ellipse cx="861.4" cy="365.4" rx="1.8" ry="1.0" fill-opacity="0.33"/>
<ellipse cx="870.1" cy="365.6" rx="1.8" ry="1.0" fill-opacity="0.27"/>
<ellipse cx="882.7" cy="366.0" rx="1.8" ry="1.0" fill-opacity="0.38"/>
<ellipse cx="895.0" cy="365.0" rx="1.8" ry="1.0" fill-opacity="0.19"/>
<ellipse cx="910.7" cy="364.8" rx="1.8" ry="1.0" fill-opacity="0.24"/>
<ellipse cx="922.6" cy="364.8" rx="1.8" ry="1.0" fill-opacity="0.25"/>
<ellipse cx="937.0" cy="365.5" rx="1.8" ry="1.0" fill-opacity="0.37"/>
<ellipse cx="949.7" cy="365.0" rx="1.8" ry="1.0" fill-opacity="0.34"/>
<ellipse cx="960.1" cy="364.9" rx="1.8" ry="1.0" fill-opacity="0.21"/>
<ellipse cx="970.6" cy="366.7" rx="1.8" ry="1.0" fill-opacity="0.36"/>
<ellipse cx="988.3" cy="366.3" rx="1.8" ry="1.0" fill-opacity="0.38"/>
<ellipse cx="1000.0" cy="366.1" rx="1.8" ry="1.0" fill-opacity="0.27"/>
<ellipse cx="1011.2" cy="365.8" rx="1.8" ry="1.0" fill-opacity="0.40"/>
<ellipse cx="1025.3" cy="366.3" rx="1.8" ry="1.0" fill-opacity="0.45"/>
<ellipse cx="1034.1" cy="364.8" rx="1.8" ry="1.0" fill-opacity="0.25"/>
<ellipse cx="1049.6" cy="365.6" rx="1.8" ry="1.0" fill-opacity="0.35"/>
<ellipse cx="1062.3" cy="366.3" rx="1.8" ry="1.0" fill-opacity="0.33"/>
<ellipse cx="1078.6" cy="364.7" rx="1.8" ry="1.0" fill-opacity="0.33"/>
<ellipse cx="9.6" cy="371.4" rx="1.8" ry="1.0" fill-opacity="0.15"/>
<ellipse cx="25.3" cy="371.7" rx="1.8" ry="1.0" fill-opacity="0.13"/>
<ellipse cx="35.7" cy="371.4" rx="1.8" ry="1.0" fill-opacity="0.14"/>
<ellipse cx="45.2" cy="371.3" rx="1.8" ry="1.0" fill-opacity="0.13"/>
<ellipse cx="57.9" cy="372.9" rx="1.8" ry="1.0" fill-opacity="0.15"/>
<ellipse cx="70.7" cy="372.5" rx="1.8" ry="1.0" fill-opacity="0.16"/>
<ellipse cx="84.3" cy="372.5" rx="1.8" ry="1.0" fill-opacity="0.16"/>
<ellipse cx="93.1" cy="371.2" rx="1.8" ry="1.0" fill-opacity="0.10"/>
<ellipse cx="111.1" cy="371.8" rx="1.8" ry="1.0" fill-opacity="0.10"/>
<ellipse cx="120.4" cy="372.2" rx="1.8" ry="1.0" fill-opacity="0.16"/>
<ellipse cx="135.5" cy="371.8" rx="1.8" ry="1.0" fill-opacity="0.15"/>
<ellipse cx="147.7" cy="372.3" rx="1.8" ry="1.0" fill-opacity="0.21"/>
<ellipse cx="160.0" cy="371.2" rx="1.8" ry="1.0" fill-opacity="0.14"/>
<ellipse cx="171.4" cy="370.9" rx="1.8" ry="1.0" fill-opacity="0.17"/>
<ellipse cx="186.2" cy="372.6" rx="1.8" ry="1.0" fill-opacity="0.24"/>
<ellipse cx="195.8" cy="371.5" rx="1.8" ry="1.0" fill-opacity="0.29"/>
<ellipse cx="210.9" cy="371.6" rx="1.8" ry="1.0" fill-opacity="0.39"/>
<ellipse cx="216.4" cy="375.1" rx="1.6" ry="0.9" fill-opacity="0.45"/>
<ellipse cx="224.7" cy="371.1" rx="1.8" ry="1.0" fill-opacity="0.46"/>
<ellipse cx="231.6" cy="374.5" rx="1.6" ry="0.9" fill-opacity="0.53"/>
<ellipse cx="235.5" cy="371.8" rx="1.8" ry="1.0" fill-opacity="0.81"/>
<ellipse cx="242.5" cy="375.4" rx="1.6" ry="0.9" fill-opacity="0.73"/>
<ellipse cx="253.0" cy="371.2" rx="1.8" ry="1.0" fill-opacity="0.99"/>
<ellipse cx="260.0" cy="374.0" rx="1.6" ry="0.9" fill-opacity="0.65"/>
<ellipse cx="265.1" cy="372.2" rx="1.8" ry="1.0" fill-opacity="0.59"/>
<ellipse cx="278.5" cy="371.0" rx="1.8" ry="1.0" fill-opacity="0.59"/>
<ellipse cx="284.7" cy="374.6" rx="1.6" ry="0.9" fill-opacity="0.74"/>
<ellipse cx="291.2" cy="371.4" rx="1.8" ry="1.0" fill-opacity="0.68"/>
<ellipse cx="297.0" cy="374.1" rx="1.6" ry="0.9" fill-opacity="0.43"/>
<ellipse cx="305.4" cy="371.7" rx="1.8" ry="1.0" fill-opacity="0.47"/>
<ellipse cx="310.9" cy="375.0" rx="1.6" ry="0.9" fill-opacity="0.45"/>
<ellipse cx="317.5" cy="371.4" rx="1.8" ry="1.0" fill-opacity="0.26"/>
<ellipse cx="329.0" cy="371.1" rx="1.8" ry="1.0" fill-opacity="0.20"/>
<ellipse cx="340.6" cy="372.6" rx="1.8" ry="1.0" fill-opacity="0.19"/>
<ellipse cx="355.1" cy="370.9" rx="1.8" ry="1.0" fill-opacity="0.15"/>
<ellipse cx="369.5" cy="371.9" rx="1.8" ry="1.0" fill-opacity="0.14"/>
<ellipse cx="383.4" cy="372.5" rx="1.8" ry="1.0" fill-opacity="0.17"/>
<ellipse cx="399.1" cy="372.2" rx="1.8" ry="1.0" fill-opacity="0.13"/>
<ellipse cx="411.5" cy="371.9" rx="1.8" ry="1.0" fill-opacity="0.16"/>
<ellipse cx="424.0" cy="372.4" rx="1.8" ry="1.0" fill-opacity="0.13"/>
<ellipse cx="440.8" cy="371.0" rx="1.8" ry="1.0" fill-opacity="0.13"/>
<ellipse cx="453.1" cy="371.2" rx="1.8" ry="1.0" fill-opacity="0.13"/>
<ellipse cx="463.3" cy="371.9" rx="1.8" ry="1.0" fill-opacity="0.16"/>
<ellipse cx="475.6" cy="370.9" rx="1.8" ry="1.0" fill-opacity="0.20"/>
<ellipse cx="489.6" cy="372.4" rx="1.8" ry="1.0" fill-opacity="0.40"/>
<ellipse cx="496.5" cy="375.8" rx="1.6" ry="0.9" fill-opacity="0.37"/>
<ellipse cx="503.3" cy="371.0" rx="1.8" ry="1.0" fill-opacity="0.57"/>
<ellipse cx="508.9" cy="374.5" rx="1.6" ry="0.9" fill-opacity="0.79"/>
<ellipse cx="513.8" cy="371.4" rx="1.8" ry="1.0" fill-opacity="0.49"/>
<ellipse cx="519.9" cy="374.5" rx="1.6" ry="0.9" fill-opacity="0.49"/>
<ellipse cx="526.9" cy="372.8" rx="1.8" ry="1.0" fill-opacity="0.33"/>
<ellipse cx="542.7" cy="371.3" rx="1.8" ry="1.0" fill-opacity="0.22"/>
<ellipse cx="554.6" cy="372.1" rx="1.8" ry="1.0" fill-opacity="0.29"/>
<ellipse cx="568.6" cy="370.9" rx="1.8" ry="1.0" fill-opacity="0.25"/>
<ellipse cx="581.6" cy="372.6" rx="1.8" ry="1.0" fill-opacity="0.31"/>
<ellipse cx="587.5" cy="376.0" rx="1.6" ry="0.9" fill-opacity="0.63"/>
<ellipse cx="590.7" cy="372.8" rx="1.8" ry="1.0" fill-opacity="0.65"/>
<ellipse cx="597.0" cy="376.2" rx="1.6" ry="0.9" fill-opacity="0.63"/>
<ellipse cx="604.2" cy="371.9" rx="1.8" ry="1.0" fill-opacity="0.58"/>
<ellipse cx="610.9" cy="374.8" rx="1.6" ry="0.9" fill-opacity="0.74"/>
<ellipse cx="615.3" cy="372.8" rx="1.8" ry="1.0" fill-opacity="0.77"/>
<ellipse cx="632.4" cy="372.5" rx="1.8" ry="1.0" fill-opacity="0.67"/>
<ellipse cx="639.3" cy="376.0" rx="1.6" ry="0.9" fill-opacity="0.81"/>
<ellipse cx="639.7" cy="372.3" rx="1.8" ry="1.0" fill-opacity="0.66"/>
<ellipse cx="656.6" cy="372.2" rx="1.8" ry="1.0" fill-opacity="0.78"/>
<ellipse cx="662.7" cy="375.6" rx="1.6" ry="0.9" fill-opacity="0.51"/>
<ellipse cx="672.5" cy="372.5" rx="1.8" ry="1.0" fill-opacity="0.70"/>
<ellipse cx="678.8" cy="375.8" rx="1.6" ry="0.9" fill-opacity="0.75"/>
<ellipse cx="680.5" cy="371.7" rx="1.8" ry="1.0" fill-opacity="0.61"/>
<ellipse cx="686.3" cy="374.8" rx="1.6" ry="0.9" fill-opacity="0.83"/>
<ellipse cx="698.1" cy="370.9" rx="1.8" ry="1.0" fill-opacity="0.92"/>
<ellipse cx="704.9" cy="374.2" rx="1.6" ry="0.9" fill-opacity="0.67"/>
<ellipse cx="707.6" cy="372.2" rx="1.8" ry="1.0" fill-opacity="0.52"/>
<ellipse cx="714.9" cy="375.6" rx="1.6" ry="0.9" fill-opacity="0.80"/>
<ellipse cx="725.6" cy="372.5" rx="1.8" ry="1.0" fill-opacity="0.99"/>
<ellipse cx="731.0" cy="375.8" rx="1.6" ry="0.9" fill-opacity="0.81"/>
<ellipse cx="738.9" cy="371.6" rx="1.8" ry="1.0" fill-opacity="0.50"/>
<ellipse cx="753.8" cy="372.1" rx="1.8" ry="1.0" fill-opacity="0.92"/>
<ellipse cx="761.2" cy="375.2" rx="1.6" ry="0.9" fill-opacity="0.95"/>
<ellipse cx="762.2" cy="371.5" rx="1.8" ry="1.0" fill-opacity="0.66"/>
<ellipse cx="775.5" cy="372.3" rx="1.8" ry="1.0" fill-opacity="0.53"/>
<ellipse cx="781.7" cy="375.1" rx="1.6" ry="0.9" fill-opacity="0.78"/>
<ellipse cx="790.0" cy="371.6" rx="1.8" ry="1.0" fill-opacity="0.93"/>
<ellipse cx="796.5" cy="374.5" rx="1.6" ry="0.9" fill-opacity="0.48"/>
<ellipse cx="802.2" cy="371.5" rx="1.8" ry="1.0" fill-opacity="0.68"/>
<ellipse cx="808.1" cy="374.7" rx="1.6" ry="0.9" fill-opacity="0.50"/>
<ellipse cx="811.8" cy="372.5" rx="1.8" ry="1.0" fill-opacity="0.81"/>
<ellipse cx="818.4" cy="376.1" rx="1.6" ry="0.9" fill-opacity="0.81"/>
<ellipse cx="821.7" cy="372.4" rx="1.8" ry="1.0" fill-opacity="0.81"/>
<ellipse cx="836.0" cy="372.0" rx="1.8" ry="1.0" fill-opacity="0.66"/>
<ellipse cx="841.7" cy="375.7" rx="1.6" ry="0.9" fill-opacity="0.64"/>
<ellipse cx="851.0" cy="371.7" rx="1.8" ry="1.0" fill-opacity="0.40"/>
<ellipse cx="856.9" cy="374.5" rx="1.6" ry="0.9" fill-opacity="0.52"/>
<ellipse cx="861.7" cy="372.2" rx="1.8" ry="1.0" fill-opacity="0.71"/>
<ellipse cx="878.9" cy="371.4" rx="1.8" ry="1.0" fill-opacity="0.59"/>
<ellipse cx="885.4" cy="374.1" rx="1.6" ry="0.9" fill-opacity="0.39"/>
<ellipse cx="890.8" cy="372.3" rx="1.8" ry="1.0" fill-opacity="0.49"/>
<ellipse cx="897.8" cy="375.1" rx="1.6" ry="0.9" fill-opacity="0.67"/>
<ellipse cx="906.7" cy="371.8" rx="1.8" ry="1.0" fill-opacity="0.31"/>
<ellipse cx="912.2" cy="375.0" rx="1.6" ry="0.9" fill-opacity="0.64"/>
<ellipse cx="918.9" cy="372.3" rx="1.8" ry="1.0" fill-opacity="0.54"/>
<ellipse cx="925.9" cy="375.6" rx="1.6" ry="0.9" fill-opacity="0.50"/>
<ellipse cx="932.5" cy="371.5" rx="1.8" ry="1.0" fill-opacity="0.58"/>
<ellipse cx="939.4" cy="374.5" rx="1.6" ry="0.9" fill-opacity="0.41"/>
<ellipse cx="945.5" cy="372.4" rx="1.8" ry="1.0" fill-opacity="0.66"/>
<ellipse cx="951.0" cy="375.2" rx="1.6" ry="0.9" fill-opacity="0.38"/>
<ellipse cx="957.5" cy="372.8" rx="1.8" ry="1.0" fill-opacity="0.46"/>
<ellipse cx="963.4" cy="375.6" rx="1.6" ry="0.9" fill-opacity="0.39"/>
<ellipse cx="969.5" cy="371.6" rx="1.8" ry="1.0" fill-opacity="0.64"/>
<ellipse cx="976.5" cy="374.8" rx="1.6" ry="0.9" fill-opacity="0.40"/>
<ellipse cx="980.6" cy="372.6" rx="1.8" ry="1.0" fill-opacity="0.38"/>
<ellipse cx="986.5" cy="376.0" rx="1.6" ry="0.9" fill-opacity="0.71"/>
<ellipse cx="993.2" cy="371.2" rx="1.8" ry="1.0" fill-opacity="0.66"/>
<ellipse cx="1009.3" cy="371.0" rx="1.8" ry="1.0" fill-opacity="0.46"/>
<ellipse cx="1018.9" cy="371.0" rx="1.8" ry="1.0" fill-opacity="0.64"/>
<ellipse cx="1024.5" cy="374.0" rx="1.6" ry="0.9" fill-opacity="0.44"/>
<ellipse cx="1032.7" cy="372.2" rx="1.8" ry="1.0" fill-opacity="0.41"/>
<ellipse cx="1038.2" cy="375.3" rx="1.6" ry="0.9" fill-opacity="0.71"/>
<ellipse cx="1045.1" cy="371.4" rx="1.8" ry="1.0" fill-opacity="0.50"/>
<ellipse cx="1050.5" cy="374.6" rx="1.6" ry="0.9" fill-opacity="0.59"/>
<ellipse cx="1059.5" cy="372.3" rx="1.8" ry="1.0" fill-opacity="0.46"/>
<ellipse cx="1065.9" cy="375.2" rx="1.6" ry="0.9" fill-opacity="0.62"/>
<ellipse cx="1069.2" cy="371.7" rx="1.8" ry="1.0" fill-opacity="0.38"/>
<ellipse cx="1076.5" cy="375.2" rx="1.6" ry="0.9" fill-opacity="0.73"/>
<ellipse cx="11.6" cy="378.7" rx="1.9" ry="1.0" fill-opacity="0.15"/>
<ellipse cx="22.5" cy="377.5" rx="1.9" ry="1.0" fill-opacity="0.08"/>
<ellipse cx="39.6" cy="378.2" rx="1.9" ry="1.0" fill-opacity="0.08"/>
<ellipse cx="51.6" cy="377.5" rx="1.9" ry="1.0" fill-opacity="0.12"/>
<ellipse cx="68.1" cy="378.9" rx="1.9" ry="1.0" fill-opacity="0.09"/>
<ellipse cx="77.5" cy="378.2" rx="1.9" ry="1.0" fill-opacity="0.08"/>
<ellipse cx="94.7" cy="378.9" rx="1.9" ry="1.0" fill-opacity="0.12"/>
<ellipse cx="110.6" cy="378.9" rx="1.9" ry="1.0" fill-opacity="0.23"/>
<ellipse cx="120.2" cy="377.4" rx="1.9" ry="1.0" fill-opacity="0.24"/>
<ellipse cx="135.8" cy="377.8" rx="1.9" ry="1.0" fill-opacity="0.25"/>
<ellipse cx="150.7" cy="378.8" rx="1.9" ry="1.0" fill-opacity="0.43"/>
<ellipse cx="163.3" cy="378.5" rx="1.9" ry="1.0" fill-opacity="0.29"/>
<ellipse cx="170.7" cy="381.8" rx="1.6" ry="0.9" fill-opacity="0.36"/>
<ellipse cx="175.9" cy="378.2" rx="1.9" ry="1.0" fill-opacity="0.34"/>
<ellipse cx="183.1" cy="381.7" rx="1.6" ry="0.9" fill-opacity="0.65"/>
<ellipse cx="190.3" cy="377.3" rx="1.9" ry="1.0" fill-opacity="0.66"/>
<ellipse cx="196.7" cy="380.3" rx="1.6" ry="0.9" fill-opacity="0.57"/>
<ellipse cx="199.8" cy="377.4" rx="1.9" ry="1.0" fill-opacity="0.58"/>
<ellipse cx="207.0" cy="380.8" rx="1.6" ry="0.9" fill-opacity="0.79"/>
<ellipse cx="213.4" cy="377.8" rx="1.9" ry="1.0" fill-opacity="0.87"/>
<ellipse cx="220.2" cy="381.2" rx="1.6" ry="0.9" fill-opacity="0.50"/>
<ellipse cx="226.0" cy="378.9" rx="1.9" ry="1.0" fill-opacity="0.95"/>
<ellipse cx="232.1" cy="381.8" rx="1.6" ry="0.9" fill-opacity="0.77"/>
<ellipse cx="240.6" cy="377.7" rx="1.9" ry="1.0" fill-opacity="0.59"/>
<ellipse cx="246.2" cy="381.2" rx="1.6" ry="0.9" fill-opacity="0.92"/>
<ellipse cx="248.2" cy="378.4" rx="1.9" ry="1.0" fill-opacity="0.57"/>
<ellipse cx="255.6" cy="381.9" rx="1.6" ry="0.9" fill-opacity="0.59"/>
<ellipse cx="263.0" cy="378.8" rx="1.9" ry="1.0" fill-opacity="0.47"/>
<ellipse cx="279.4" cy="377.9" rx="1.9" ry="1.0" fill-opacity="0.59"/>
<ellipse cx="285.5" cy="381.4" rx="1.6" ry="0.9" fill-opacity="0.44"/>
<ellipse cx="287.1" cy="378.5" rx="1.9" ry="1.0" fill-opacity="0.31"/>
<ellipse cx="301.1" cy="377.5" rx="1.9" ry="1.0" fill-opacity="0.35"/>
<ellipse cx="311.3" cy="379.1" rx="1.9" ry="1.0" fill-opacity="0.25"/>
<ellipse cx="328.7" cy="378.4" rx="1.9" ry="1.0" fill-opacity="0.21"/>
<ellipse cx="340.8" cy="377.9" rx="1.9" ry="1.0" fill-opacity="0.13"/>
<ellipse cx="352.9" cy="378.5" rx="1.9" ry="1.0" fill-opacity="0.16"/>
<ellipse cx="367.1" cy="377.3" rx="1.9" ry="1.0" fill-opacity="0.12"/>
<ellipse cx="382.4" cy="378.3" rx="1.9" ry="1.0" fill-opacity="0.12"/>
<ellipse cx="394.8" cy="378.6" rx="1.9" ry="1.0" fill-opacity="0.12"/>
<ellipse cx="407.0" cy="377.5" rx="1.9" ry="1.0" fill-opacity="0.11"/>
<ellipse cx="424.9" cy="377.8" rx="1.9" ry="1.0" fill-opacity="0.12"/>
<ellipse cx="436.2" cy="377.6" rx="1.9" ry="1.0" fill-opacity="0.14"/>
<ellipse cx="446.2" cy="377.8" rx="1.9" ry="1.0" fill-opacity="0.10"/>
<ellipse cx="457.1" cy="378.3" rx="1.9" ry="1.0" fill-opacity="0.14"/>
<ellipse cx="473.0" cy="378.5" rx="1.9" ry="1.0" fill-opacity="0.24"/>
<ellipse cx="485.5" cy="378.2" rx="1.9" ry="1.0" fill-opacity="0.37"/>
<ellipse cx="498.9" cy="378.4" rx="1.9" ry="1.0" fill-opacity="0.73"/>
<ellipse cx="505.5" cy="382.0" rx="1.6" ry="0.9" fill-opacity="0.51"/>
<ellipse cx="510.1" cy="378.7" rx="1.9" ry="1.0" fill-opacity="0.65"/>
<ellipse cx="517.5" cy="382.5" rx="1.6" ry="0.9" fill-opacity="0.60"/>
<ellipse cx="526.5" cy="378.0" rx="1.9" ry="1.0" fill-opacity="0.28"/>
<ellipse cx="537.0" cy="378.7" rx="1.9" ry="1.0" fill-opacity="0.49"/>
<ellipse cx="543.4" cy="382.2" rx="1.6" ry="0.9" fill-opacity="0.54"/>
<ellipse cx="550.6" cy="378.6" rx="1.9" ry="1.0" fill-opacity="0.53"/>
<ellipse cx="557.5" cy="382.1" rx="1.6" ry="0.9" fill-opacity="0.53"/>
<ellipse cx="565.9" cy="377.6" rx="1.9" ry="1.0" fill-opacity="0.54"/>
<ellipse cx="571.8" cy="381.3" rx="1.6" ry="0.9" fill-opacity="0.45"/>
<ellipse cx="578.9" cy="378.3" rx="1.9" ry="1.0" fill-opacity="0.82"/>
<ellipse cx="586.2" cy="381.1" rx="1.6" ry="0.9" fill-opacity="0.84"/>
<ellipse cx="595.3" cy="378.5" rx="1.9" ry="1.0" fill-opacity="0.65"/>
<ellipse cx="601.5" cy="381.7" rx="1.6" ry="0.9" fill-opacity="0.85"/>
<ellipse cx="606.7" cy="378.2" rx="1.9" ry="1.0" fill-opacity="0.71"/>
<ellipse cx="613.5" cy="381.3" rx="1.6" ry="0.9" fill-opacity="0.91"/>
<ellipse cx="619.3" cy="378.3" rx="1.9" ry="1.0" fill-opacity="0.89"/>
<ellipse cx="626.1" cy="381.6" rx="1.6" ry="0.9" fill-opacity="0.62"/>
<ellipse cx="630.4" cy="378.1" rx="1.9" ry="1.0" fill-opacity="0.69"/>
<ellipse cx="636.5" cy="381.5" rx="1.6" ry="0.9" fill-opacity="0.72"/>
<ellipse cx="647.4" cy="377.7" rx="1.9" ry="1.0" fill-opacity="0.98"/>
<ellipse cx="653.6" cy="380.8" rx="1.6" ry="0.9" fill-opacity="0.85"/>
<ellipse cx="659.7" cy="377.8" rx="1.9" ry="1.0" fill-opacity="0.92"/>
<ellipse cx="666.9" cy="381.0" rx="1.6" ry="0.9" fill-opacity="0.69"/>
<ellipse cx="672.5" cy="378.3" rx="1.9" ry="1.0" fill-opacity="0.74"/>
<ellipse cx="685.2" cy="379.2" rx="1.9" ry="1.0" fill-opacity="0.45"/>
<ellipse cx="692.4" cy="382.3" rx="1.6" ry="0.9" fill-opacity="0.47"/>
<ellipse cx="698.2" cy="378.9" rx="1.9" ry="1.0" fill-opacity="0.44"/>
<ellipse cx="703.8" cy="381.8" rx="1.6" ry="0.9" fill-opacity="0.58"/>
<ellipse cx="713.1" cy="378.5" rx="1.9" ry="1.0" fill-opacity="0.80"/>
<ellipse cx="720.5" cy="382.0" rx="1.6" ry="0.9" fill-opacity="0.55"/>
<ellipse cx="723.6" cy="377.5" rx="1.9" ry="1.0" fill-opacity="0.87"/>
<ellipse cx="729.6" cy="380.7" rx="1.6" ry="0.9" fill-opacity="0.83"/>
<ellipse cx="736.0" cy="377.4" rx="1.9" ry="1.0" fill-opacity="0.57"/>
<ellipse cx="742.5" cy="380.9" rx="1.6" ry="0.9" fill-opacity="0.57"/>
<ellipse cx="750.1" cy="378.7" rx="1.9" ry="1.0" fill-opacity="0.89"/>
<ellipse cx="757.6" cy="382.0" rx="1.6" ry="0.9" fill-opacity="0.69"/>
<ellipse cx="759.5" cy="378.5" rx="1.9" ry="1.0" fill-opacity="0.51"/>
<ellipse cx="765.2" cy="381.9" rx="1.6" ry="0.9" fill-opacity="0.56"/>
<ellipse cx="774.1" cy="378.1" rx="1.9" ry="1.0" fill-opacity="0.55"/>
<ellipse cx="781.6" cy="381.5" rx="1.6" ry="0.9" fill-opacity="0.69"/>
<ellipse cx="787.1" cy="378.9" rx="1.9" ry="1.0" fill-opacity="0.86"/>
<ellipse cx="794.2" cy="381.8" rx="1.6" ry="0.9" fill-opacity="0.55"/>
<ellipse cx="798.2" cy="378.4" rx="1.9" ry="1.0" fill-opacity="0.63"/>
<ellipse cx="813.5" cy="379.1" rx="1.9" ry="1.0" fill-opacity="0.72"/>
<ellipse cx="820.0" cy="382.3" rx="1.6" ry="0.9" fill-opacity="0.56"/>
<ellipse cx="827.8" cy="378.6" rx="1.9" ry="1.0" fill-opacity="0.66"/>
<ellipse cx="834.1" cy="381.8" rx="1.6" ry="0.9" fill-opacity="0.89"/>
<ellipse cx="836.6" cy="378.3" rx="1.9" ry="1.0" fill-opacity="0.56"/>
<ellipse cx="842.6" cy="381.5" rx="1.6" ry="0.9" fill-opacity="0.61"/>
<ellipse cx="850.0" cy="378.6" rx="1.9" ry="1.0" fill-opacity="0.70"/>
<ellipse cx="856.6" cy="381.5" rx="1.6" ry="0.9" fill-opacity="0.73"/>
<ellipse cx="861.3" cy="379.1" rx="1.9" ry="1.0" fill-opacity="0.72"/>
<ellipse cx="867.1" cy="382.6" rx="1.6" ry="0.9" fill-opacity="0.54"/>
<ellipse cx="872.2" cy="377.3" rx="1.9" ry="1.0" fill-opacity="0.86"/>
<ellipse cx="884.2" cy="378.7" rx="1.9" ry="1.0" fill-opacity="0.76"/>
<ellipse cx="891.3" cy="381.6" rx="1.6" ry="0.9" fill-opacity="0.57"/>
<ellipse cx="901.8" cy="377.7" rx="1.9" ry="1.0" fill-opacity="0.64"/>
<ellipse cx="914.4" cy="377.6" rx="1.9" ry="1.0" fill-opacity="0.46"/>
<ellipse cx="921.0" cy="381.0" rx="1.6" ry="0.9" fill-opacity="0.64"/>
<ellipse cx="928.4" cy="378.5" rx="1.9" ry="1.0" fill-opacity="0.63"/>
<ellipse cx="943.0" cy="379.2" rx="1.9" ry="1.0" fill-opacity="0.84"/>
<ellipse cx="949.9" cy="382.6" rx="1.6" ry="0.9" fill-opacity="0.58"/>
<ellipse cx="953.1" cy="377.7" rx="1.9" ry="1.0" fill-opacity="0.72"/>
<ellipse cx="959.9" cy="381.0" rx="1.6" ry="0.9" fill-opacity="0.57"/>
<ellipse cx="965.3" cy="379.0" rx="1.9" ry="1.0" fill-opacity="0.61"/>
<ellipse cx="971.8" cy="382.2" rx="1.6" ry="0.9" fill-opacity="0.77"/>
<ellipse cx="980.0" cy="378.9" rx="1.9" ry="1.0" fill-opacity="0.82"/>
<ellipse cx="991.6" cy="378.5" rx="1.9" ry="1.0" fill-opacity="0.62"/>
<ellipse cx="1004.7" cy="378.3" rx="1.9" ry="1.0" fill-opacity="0.64"/>
<ellipse cx="1010.8" cy="381.5" rx="1.6" ry="0.9" fill-opacity="0.93"/>
<ellipse cx="1017.3" cy="379.2" rx="1.9" ry="1.0" fill-opacity="0.87"/>
<ellipse cx="1022.9" cy="382.9" rx="1.6" ry="0.9" fill-opacity="0.52"/>
<ellipse cx="1029.5" cy="378.6" rx="1.9" ry="1.0" fill-opacity="0.88"/>
<ellipse cx="1039.2" cy="377.4" rx="1.9" ry="1.0" fill-opacity="0.65"/>
<ellipse cx="1046.4" cy="380.5" rx="1.6" ry="0.9" fill-opacity="0.79"/>
<ellipse cx="1049.4" cy="377.4" rx="1.9" ry="1.0" fill-opacity="0.74"/>
<ellipse cx="1056.4" cy="380.6" rx="1.6" ry="0.9" fill-opacity="0.92"/>
<ellipse cx="1064.9" cy="379.0" rx="1.9" ry="1.0" fill-opacity="0.57"/>
<ellipse cx="1071.6" cy="382.4" rx="1.6" ry="0.9" fill-opacity="0.95"/>
<ellipse cx="1076.9" cy="379.1" rx="1.9" ry="1.0" fill-opacity="0.71"/>
<ellipse cx="1083.9" cy="382.5" rx="1.6" ry="0.9" fill-opacity="0.90"/>
<ellipse cx="3.3" cy="384.8" rx="1.9" ry="1.0" fill-opacity="0.10"/>
<ellipse cx="15.9" cy="384.3" rx="1.9" ry="1.0" fill-opacity="0.08"/>
<ellipse cx="28.2" cy="385.3" rx="1.9" ry="1.0" fill-opacity="0.11"/>
<ellipse cx="44.1" cy="385.1" rx="1.9" ry="1.0" fill-opacity="0.10"/>
<ellipse cx="58.7" cy="385.5" rx="1.9" ry="1.0" fill-opacity="0.09"/>
<ellipse cx="75.8" cy="384.2" rx="1.9" ry="1.0" fill-opacity="0.13"/>
<ellipse cx="86.2" cy="384.6" rx="1.9" ry="1.0" fill-opacity="0.10"/>
<ellipse cx="98.0" cy="384.6" rx="1.9" ry="1.0" fill-opacity="0.10"/>
<ellipse cx="113.7" cy="385.2" rx="1.9" ry="1.0" fill-opacity="0.35"/>
<ellipse cx="131.8" cy="385.2" rx="1.9" ry="1.0" fill-opacity="0.58"/>
<ellipse cx="145.6" cy="385.0" rx="1.9" ry="1.0" fill-opacity="0.38"/>
<ellipse cx="152.0" cy="388.5" rx="1.7" ry="0.9" fill-opacity="0.38"/>
<ellipse cx="159.1" cy="384.7" rx="1.9" ry="1.0" fill-opacity="0.60"/>
<ellipse cx="173.5" cy="385.2" rx="1.9" ry="1.0" fill-opacity="0.56"/>
<ellipse cx="180.0" cy="389.0" rx="1.7" ry="0.9" fill-opacity="0.67"/>
<ellipse cx="186.3" cy="385.7" rx="1.9" ry="1.0" fill-opacity="0.67"/>
<ellipse cx="193.1" cy="389.3" rx="1.7" ry="0.9" fill-opacity="0.96"/>
<ellipse cx="197.5" cy="385.3" rx="1.9" ry="1.0" fill-opacity="0.75"/>
<ellipse cx="204.6" cy="388.3" rx="1.7" ry="0.9" fill-opacity="0.52"/>
<ellipse cx="209.1" cy="384.2" rx="1.9" ry="1.0" fill-opacity="0.64"/>
<ellipse cx="214.9" cy="387.6" rx="1.7" ry="0.9" fill-opacity="0.87"/>
<ellipse cx="219.9" cy="385.3" rx="1.9" ry="1.0" fill-opacity="0.49"/>
<ellipse cx="226.6" cy="388.5" rx="1.7" ry="0.9" fill-opacity="0.83"/>
<ellipse cx="235.0" cy="384.6" rx="1.9" ry="1.0" fill-opacity="0.41"/>
<ellipse cx="249.1" cy="384.0" rx="1.9" ry="1.0" fill-opacity="0.47"/>
<ellipse cx="255.1" cy="387.0" rx="1.7" ry="0.9" fill-opacity="0.70"/>
<ellipse cx="265.5" cy="384.9" rx="1.9" ry="1.0" fill-opacity="0.39"/>
<ellipse cx="277.4" cy="384.2" rx="1.9" ry="1.0" fill-opacity="0.30"/>
<ellipse cx="291.3" cy="383.9" rx="1.9" ry="1.0" fill-opacity="0.18"/>
<ellipse cx="303.0" cy="384.8" rx="1.9" ry="1.0" fill-opacity="0.14"/>
<ellipse cx="316.9" cy="384.4" rx="1.9" ry="1.0" fill-opacity="0.13"/>
<ellipse cx="325.8" cy="383.9" rx="1.9" ry="1.0" fill-opacity="0.17"/>
<ellipse cx="343.2" cy="385.7" rx="1.9" ry="1.0" fill-opacity="0.12"/>
<ellipse cx="355.8" cy="384.7" rx="1.9" ry="1.0" fill-opacity="0.12"/>
<ellipse cx="370.9" cy="384.5" rx="1.9" ry="1.0" fill-opacity="0.13"/>
<ellipse cx="382.1" cy="384.7" rx="1.9" ry="1.0" fill-opacity="0.12"/>
<ellipse cx="392.2" cy="385.2" rx="1.9" ry="1.0" fill-opacity="0.09"/>
<ellipse cx="408.4" cy="385.0" rx="1.9" ry="1.0" fill-opacity="0.13"/>
<ellipse cx="423.2" cy="384.6" rx="1.9" ry="1.0" fill-opacity="0.10"/>
<ellipse cx="434.2" cy="384.8" rx="1.9" ry="1.0" fill-opacity="0.10"/>
<ellipse cx="450.8" cy="385.5" rx="1.9" ry="1.0" fill-opacity="0.19"/>
<ellipse cx="462.6" cy="385.1" rx="1.9" ry="1.0" fill-opacity="0.44"/>
<ellipse cx="478.2" cy="384.8" rx="1.9" ry="1.0" fill-opacity="0.40"/>
<ellipse cx="484.3" cy="388.5" rx="1.7" ry="0.9" fill-opacity="0.48"/>
<ellipse cx="489.7" cy="385.5" rx="1.9" ry="1.0" fill-opacity="0.53"/>
<ellipse cx="497.3" cy="388.6" rx="1.7" ry="0.9" fill-opacity="0.54"/>
<ellipse cx="501.1" cy="384.4" rx="1.9" ry="1.0" fill-opacity="0.42"/>
<ellipse cx="506.9" cy="387.9" rx="1.7" ry="0.9" fill-opacity="0.64"/>
<ellipse cx="516.3" cy="384.7" rx="1.9" ry="1.0" fill-opacity="0.55"/>
<ellipse cx="528.6" cy="385.3" rx="1.9" ry="1.0" fill-opacity="0.73"/>
<ellipse cx="534.4" cy="388.9" rx="1.7" ry="0.9" fill-opacity="0.76"/>
<ellipse cx="541.1" cy="385.3" rx="1.9" ry="1.0" fill-opacity="0.53"/>
<ellipse cx="548.1" cy="388.8" rx="1.7" ry="0.9" fill-opacity="0.49"/>
<ellipse cx="556.3" cy="384.0" rx="1.9" ry="1.0" fill-opacity="0.48"/>
<ellipse cx="563.7" cy="387.6" rx="1.7" ry="0.9" fill-opacity="0.57"/>
<ellipse cx="567.9" cy="385.5" rx="1.9" ry="1.0" fill-opacity="0.83"/>
<ellipse cx="575.1" cy="388.4" rx="1.7" ry="0.9" fill-opacity="0.58"/>
<ellipse cx="580.8" cy="383.9" rx="1.9" ry="1.0" fill-opacity="0.57"/>
<ellipse cx="588.0" cy="387.1" rx="1.7" ry="0.9" fill-opacity="0.53"/>
<ellipse cx="596.1" cy="385.6" rx="1.9" ry="1.0" fill-opacity="0.76"/>
<ellipse cx="603.3" cy="389.2" rx="1.7" ry="0.9" fill-opacity="0.89"/>
<ellipse cx="609.1" cy="385.8" rx="1.9" ry="1.0" fill-opacity="0.70"/>
<ellipse cx="616.1" cy="389.5" rx="1.7" ry="0.9" fill-opacity="0.77"/>
<ellipse cx="623.9" cy="385.6" rx="1.9" ry="1.0" fill-opacity="0.87"/>
<ellipse cx="629.7" cy="389.1" rx="1.7" ry="0.9" fill-opacity="0.76"/>
<ellipse cx="640.9" cy="385.3" rx="1.9" ry="1.0" fill-opacity="0.77"/>
<ellipse cx="648.0" cy="388.6" rx="1.7" ry="0.9" fill-opacity="0.54"/>
<ellipse cx="652.4" cy="385.3" rx="1.9" ry="1.0" fill-opacity="0.64"/>
<ellipse cx="658.2" cy="389.0" rx="1.7" ry="0.9" fill-opacity="0.75"/>
<ellipse cx="669.3" cy="383.9" rx="1.9" ry="1.0" fill-opacity="0.51"/>
<ellipse cx="675.6" cy="387.7" rx="1.7" ry="0.9" fill-opacity="0.50"/>
<ellipse cx="678.7" cy="383.9" rx="1.9" ry="1.0" fill-opacity="0.39"/>
<ellipse cx="685.7" cy="387.4" rx="1.7" ry="0.9" fill-opacity="0.42"/>
<ellipse cx="692.8" cy="384.4" rx="1.9" ry="1.0" fill-opacity="0.40"/>
<ellipse cx="699.4" cy="387.7" rx="1.7" ry="0.9" fill-opacity="0.57"/>
<ellipse cx="706.1" cy="385.0" rx="1.9" ry="1.0" fill-opacity="0.38"/>
<ellipse cx="712.2" cy="388.5" rx="1.7" ry="0.9" fill-opacity="0.58"/>
<ellipse cx="722.2" cy="385.6" rx="1.9" ry="1.0" fill-opacity="0.57"/>
<ellipse cx="728.6" cy="388.8" rx="1.7" ry="0.9" fill-opacity="0.53"/>
<ellipse cx="732.2" cy="384.0" rx="1.9" ry="1.0" fill-opacity="0.54"/>
<ellipse cx="739.7" cy="387.7" rx="1.7" ry="0.9" fill-opacity="0.54"/>
<ellipse cx="745.3" cy="383.9" rx="1.9" ry="1.0" fill-opacity="0.38"/>
<ellipse cx="756.4" cy="385.8" rx="1.9" ry="1.0" fill-opacity="0.43"/>
<ellipse cx="763.0" cy="389.7" rx="1.7" ry="0.9" fill-opacity="0.37"/>
<ellipse cx="772.2" cy="383.9" rx="1.9" ry="1.0" fill-opacity="0.72"/>
<ellipse cx="779.2" cy="386.8" rx="1.7" ry="0.9" fill-opacity="0.43"/>
<ellipse cx="783.9" cy="385.7" rx="1.9" ry="1.0" fill-opacity="0.68"/>
<ellipse cx="789.8" cy="389.4" rx="1.7" ry="0.9" fill-opacity="0.57"/>
<ellipse cx="798.3" cy="385.0" rx="1.9" ry="1.0" fill-opacity="0.47"/>
<ellipse cx="804.1" cy="388.3" rx="1.7" ry="0.9" fill-opacity="0.54"/>
<ellipse cx="811.8" cy="385.3" rx="1.9" ry="1.0" fill-opacity="0.47"/>
<ellipse cx="819.3" cy="388.5" rx="1.7" ry="0.9" fill-opacity="0.69"/>
<ellipse cx="827.0" cy="384.5" rx="1.9" ry="1.0" fill-opacity="0.52"/>
<ellipse cx="833.5" cy="388.0" rx="1.7" ry="0.9" fill-opacity="0.84"/>
<ellipse cx="838.3" cy="384.5" rx="1.9" ry="1.0" fill-opacity="0.91"/>
<ellipse cx="844.4" cy="387.9" rx="1.7" ry="0.9" fill-opacity="0.48"/>
<ellipse cx="850.3" cy="384.1" rx="1.9" ry="1.0" fill-opacity="0.73"/>
<ellipse cx="856.5" cy="387.6" rx="1.7" ry="0.9" fill-opacity="0.64"/>
<ellipse cx="864.8" cy="385.5" rx="1.9" ry="1.0" fill-opacity="0.70"/>
<ellipse cx="871.0" cy="389.0" rx="1.7" ry="0.9" fill-opacity="0.53"/>
<ellipse cx="881.0" cy="384.6" rx="1.9" ry="1.0" fill-opacity="0.53"/>
<ellipse cx="888.7" cy="387.7" rx="1.7" ry="0.9" fill-opacity="0.59"/>
<ellipse cx="896.4" cy="384.1" rx="1.9" ry="1.0" fill-opacity="0.60"/>
<ellipse cx="902.6" cy="387.0" rx="1.7" ry="0.9" fill-opacity="0.83"/>
<ellipse cx="912.4" cy="385.5" rx="1.9" ry="1.0" fill-opacity="0.60"/>
<ellipse cx="919.3" cy="389.0" rx="1.7" ry="0.9" fill-opacity="0.81"/>
<ellipse cx="923.8" cy="384.3" rx="1.9" ry="1.0" fill-opacity="0.54"/>
<ellipse cx="930.7" cy="387.3" rx="1.7" ry="0.9" fill-opacity="0.93"/>
<ellipse cx="939.4" cy="385.7" rx="1.9" ry="1.0" fill-opacity="0.80"/>
<ellipse cx="945.8" cy="389.0" rx="1.7" ry="0.9" fill-opacity="0.65"/>
<ellipse cx="950.8" cy="383.9" rx="1.9" ry="1.0" fill-opacity="0.72"/>
<ellipse cx="957.0" cy="387.7" rx="1.7" ry="0.9" fill-opacity="0.94"/>
<ellipse cx="966.5" cy="384.5" rx="1.9" ry="1.0" fill-opacity="0.87"/>
<ellipse cx="972.9" cy="388.2" rx="1.7" ry="0.9" fill-opacity="0.67"/>
<ellipse cx="976.6" cy="384.0" rx="1.9" ry="1.0" fill-opacity="0.86"/>
<ellipse cx="983.3" cy="387.8" rx="1.7" ry="0.9" fill-opacity="0.80"/>
<ellipse cx="993.4" cy="385.2" rx="1.9" ry="1.0" fill-opacity="0.85"/>
<ellipse cx="1001.0" cy="388.7" rx="1.7" ry="0.9" fill-opacity="0.81"/>
<ellipse cx="1006.4" cy="385.7" rx="1.9" ry="1.0" fill-opacity="0.62"/>
<ellipse cx="1013.1" cy="388.9" rx="1.7" ry="0.9" fill-opacity="0.83"/>
<ellipse cx="1018.4" cy="384.2" rx="1.9" ry="1.0" fill-opacity="0.79"/>
<ellipse cx="1025.4" cy="387.6" rx="1.7" ry="0.9" fill-opacity="0.55"/>
<ellipse cx="1036.7" cy="384.0" rx="1.9" ry="1.0" fill-opacity="0.79"/>
<ellipse cx="1043.6" cy="387.4" rx="1.7" ry="0.9" fill-opacity="0.74"/>
<ellipse cx="1052.3" cy="384.7" rx="1.9" ry="1.0" fill-opacity="0.88"/>
<ellipse cx="1059.6" cy="388.6" rx="1.7" ry="0.9" fill-opacity="0.52"/>
<ellipse cx="1061.6" cy="385.5" rx="1.9" ry="1.0" fill-opacity="0.92"/>
<ellipse cx="1068.3" cy="389.2" rx="1.7" ry="0.9" fill-opacity="0.83"/>
<ellipse cx="1078.1" cy="385.7" rx="1.9" ry="1.0" fill-opacity="0.52"/>
<ellipse cx="9.4" cy="391.2" rx="2.0" ry="1.0" fill-opacity="0.10"/>
<ellipse cx="25.6" cy="392.6" rx="2.0" ry="1.0" fill-opacity="0.08"/>
<ellipse cx="39.8" cy="392.5" rx="2.0" ry="1.0" fill-opacity="0.13"/>
<ellipse cx="49.7" cy="391.0" rx="2.0" ry="1.0" fill-opacity="0.09"/>
<ellipse cx="64.7" cy="390.9" rx="2.0" ry="1.0" fill-opacity="0.08"/>
<ellipse cx="81.4" cy="390.9" rx="2.0" ry="1.0" fill-opacity="0.11"/>
<ellipse cx="96.0" cy="391.7" rx="2.0" ry="1.0" fill-opacity="0.18"/>
<ellipse cx="109.2" cy="392.2" rx="2.0" ry="1.0" fill-opacity="0.50"/>
<ellipse cx="116.0" cy="396.1" rx="1.7" ry="0.9" fill-opacity="0.34"/>
<ellipse cx="119.7" cy="392.5" rx="2.0" ry="1.0" fill-opacity="0.51"/>
<ellipse cx="126.4" cy="396.3" rx="1.7" ry="0.9" fill-opacity="0.71"/>
<ellipse cx="131.9" cy="391.0" rx="2.0" ry="1.0" fill-opacity="0.71"/>
<ellipse cx="138.0" cy="394.1" rx="1.7" ry="0.9" fill-opacity="0.60"/>
<ellipse cx="146.3" cy="391.0" rx="2.0" ry="1.0" fill-opacity="0.50"/>
<ellipse cx="154.1" cy="394.6" rx="1.7" ry="0.9" fill-opacity="0.91"/>
<ellipse cx="159.1" cy="391.4" rx="2.0" ry="1.0" fill-opacity="0.92"/>
<ellipse cx="166.2" cy="395.3" rx="1.7" ry="0.9" fill-opacity="0.97"/>
<ellipse cx="170.1" cy="390.8" rx="2.0" ry="1.0" fill-opacity="0.77"/>
<ellipse cx="177.4" cy="394.2" rx="1.7" ry="0.9" fill-opacity="0.50"/>
<ellipse cx="184.7" cy="391.2" rx="2.0" ry="1.0" fill-opacity="0.71"/>
<ellipse cx="192.1" cy="394.9" rx="1.7" ry="0.9" fill-opacity="0.53"/>
<ellipse cx="199.1" cy="391.7" rx="2.0" ry="1.0" fill-opacity="0.46"/>
<ellipse cx="205.9" cy="395.3" rx="1.7" ry="0.9" fill-opacity="0.72"/>
<ellipse cx="216.0" cy="391.3" rx="2.0" ry="1.0" fill-opacity="0.42"/>
<ellipse cx="222.6" cy="394.6" rx="1.7" ry="0.9" fill-opacity="0.44"/>
<ellipse cx="231.3" cy="391.5" rx="2.0" ry="1.0" fill-opacity="0.47"/>
<ellipse cx="243.9" cy="391.1" rx="2.0" ry="1.0" fill-opacity="0.29"/>
<ellipse cx="256.8" cy="391.5" rx="2.0" ry="1.0" fill-opacity="0.19"/>
<ellipse cx="270.4" cy="391.0" rx="2.0" ry="1.0" fill-opacity="0.19"/>
<ellipse cx="281.2" cy="391.2" rx="2.0" ry="1.0" fill-opacity="0.12"/>
<ellipse cx="298.6" cy="392.4" rx="2.0" ry="1.0" fill-opacity="0.09"/>
<ellipse cx="309.1" cy="391.6" rx="2.0" ry="1.0" fill-opacity="0.14"/>
<ellipse cx="326.9" cy="390.7" rx="2.0" ry="1.0" fill-opacity="0.08"/>
<ellipse cx="338.0" cy="390.6" rx="2.0" ry="1.0" fill-opacity="0.10"/>
<ellipse cx="351.4" cy="391.0" rx="2.0" ry="1.0" fill-opacity="0.10"/>
<ellipse cx="363.3" cy="390.9" rx="2.0" ry="1.0" fill-opacity="0.11"/>
<ellipse cx="373.1" cy="392.6" rx="2.0" ry="1.0" fill-opacity="0.13"/>
<ellipse cx="388.5" cy="392.6" rx="2.0" ry="1.0" fill-opacity="0.15"/>
<ellipse cx="402.5" cy="390.7" rx="2.0" ry="1.0" fill-opacity="0.12"/>
<ellipse cx="418.7" cy="392.6" rx="2.0" ry="1.0" fill-opacity="0.14"/>
<ellipse cx="431.5" cy="391.9" rx="2.0" ry="1.0" fill-opacity="0.08"/>
<ellipse cx="443.5" cy="392.2" rx="2.0" ry="1.0" fill-opacity="0.18"/>
<ellipse cx="454.4" cy="392.5" rx="2.0" ry="1.0" fill-opacity="0.28"/>
<ellipse cx="471.7" cy="391.6" rx="2.0" ry="1.0" fill-opacity="0.61"/>
<ellipse cx="486.6" cy="392.3" rx="2.0" ry="1.0" fill-opacity="0.53"/>
<ellipse cx="493.1" cy="395.4" rx="1.7" ry="0.9" fill-opacity="0.64"/>
<ellipse cx="499.9" cy="392.3" rx="2.0" ry="1.0" fill-opacity="0.70"/>
<ellipse cx="506.3" cy="396.1" rx="1.7" ry="0.9" fill-opacity="0.61"/>
<ellipse cx="509.3" cy="391.8" rx="2.0" ry="1.0" fill-opacity="0.54"/>
<ellipse cx="516.2" cy="395.5" rx="1.7" ry="0.9" fill-opacity="0.68"/>
<ellipse cx="525.0" cy="392.1" rx="2.0" ry="1.0" fill-opacity="0.54"/>
<ellipse cx="538.6" cy="392.3" rx="2.0" ry="1.0" fill-opacity="0.92"/>
<ellipse cx="546.3" cy="396.2" rx="1.7" ry="0.9" fill-opacity="0.67"/>
<ellipse cx="556.2" cy="391.8" rx="2.0" ry="1.0" fill-opacity="0.67"/>
<ellipse cx="563.6" cy="395.6" rx="1.7" ry="0.9" fill-opacity="0.94"/>
<ellipse cx="566.9" cy="392.0" rx="2.0" ry="1.0" fill-opacity="0.57"/>
<ellipse cx="574.6" cy="395.8" rx="1.7" ry="0.9" fill-opacity="0.81"/>
<ellipse cx="579.2" cy="392.3" rx="2.0" ry="1.0" fill-opacity="0.48"/>
<ellipse cx="586.5" cy="395.7" rx="1.7" ry="0.9" fill-opacity="0.88"/>
<ellipse cx="595.4" cy="391.0" rx="2.0" ry="1.0" fill-opacity="0.61"/>
<ellipse cx="602.3" cy="394.8" rx="1.7" ry="0.9" fill-opacity="0.88"/>
<ellipse cx="611.3" cy="392.6" rx="2.0" ry="1.0" fill-opacity="0.63"/>
<ellipse cx="617.3" cy="396.0" rx="1.7" ry="0.9" fill-opacity="0.58"/>
<ellipse cx="623.0" cy="391.4" rx="2.0" ry="1.0" fill-opacity="0.44"/>
<ellipse cx="630.0" cy="394.7" rx="1.7" ry="0.9" fill-opacity="0.74"/>
<ellipse cx="635.6" cy="390.9" rx="2.0" ry="1.0" fill-opacity="0.35"/>
<ellipse cx="642.7" cy="394.5" rx="1.7" ry="0.9" fill-opacity="0.55"/>
<ellipse cx="650.7" cy="390.7" rx="2.0" ry="1.0" fill-opacity="0.36"/>
<ellipse cx="657.2" cy="394.1" rx="1.7" ry="0.9" fill-opacity="0.47"/>
<ellipse cx="662.8" cy="390.8" rx="2.0" ry="1.0" fill-opacity="0.41"/>
<ellipse cx="676.0" cy="392.1" rx="2.0" ry="1.0" fill-opacity="0.29"/>
<ellipse cx="689.4" cy="391.3" rx="2.0" ry="1.0" fill-opacity="0.32"/>
<ellipse cx="705.2" cy="390.7" rx="2.0" ry="1.0" fill-opacity="0.29"/>
<ellipse cx="720.2" cy="391.0" rx="2.0" ry="1.0" fill-opacity="0.30"/>
<ellipse cx="731.8" cy="390.8" rx="2.0" ry="1.0" fill-opacity="0.31"/>
<ellipse cx="750.3" cy="391.8" rx="2.0" ry="1.0" fill-opacity="0.35"/>
<ellipse cx="763.9" cy="391.4" rx="2.0" ry="1.0" fill-opacity="0.41"/>
<ellipse cx="781.5" cy="391.9" rx="2.0" ry="1.0" fill-opacity="0.30"/>
<ellipse cx="791.8" cy="391.1" rx="2.0" ry="1.0" fill-opacity="0.42"/>
<ellipse cx="807.6" cy="392.4" rx="2.0" ry="1.0" fill-opacity="0.26"/>
<ellipse cx="817.6" cy="391.4" rx="2.0" ry="1.0" fill-opacity="0.57"/>
<ellipse cx="825.0" cy="394.6" rx="1.7" ry="0.9" fill-opacity="0.45"/>
<ellipse cx="833.7" cy="392.1" rx="2.0" ry="1.0" fill-opacity="0.50"/>
<ellipse cx="839.6" cy="395.5" rx="1.7" ry="0.9" fill-opacity="0.69"/>
<ellipse cx="846.7" cy="392.6" rx="2.0" ry="1.0" fill-opacity="0.53"/>
<ellipse cx="853.5" cy="396.3" rx="1.7" ry="0.9" fill-opacity="0.50"/>
<ellipse cx="859.2" cy="391.1" rx="2.0" ry="1.0" fill-opacity="0.66"/>
<ellipse cx="865.3" cy="394.6" rx="1.7" ry="0.9" fill-opacity="0.81"/>
<ellipse cx="876.0" cy="392.1" rx="2.0" ry="1.0" fill-opacity="0.48"/>
<ellipse cx="881.9" cy="395.7" rx="1.7" ry="0.9" fill-opacity="0.43"/>
<ellipse cx="885.4" cy="391.3" rx="2.0" ry="1.0" fill-opacity="0.62"/>
<ellipse cx="891.4" cy="394.5" rx="1.7" ry="0.9" fill-opacity="0.84"/>
<ellipse cx="905.0" cy="390.9" rx="2.0" ry="1.0" fill-opacity="0.54"/>
<ellipse cx="913.0" cy="391.9" rx="2.0" ry="1.0" fill-opacity="0.84"/>
<ellipse cx="929.3" cy="392.1" rx="2.0" ry="1.0" fill-opacity="0.80"/>
<ellipse cx="947.4" cy="392.2" rx="2.0" ry="1.0" fill-opacity="0.68"/>
<ellipse cx="954.4" cy="396.2" rx="1.7" ry="0.9" fill-opacity="0.66"/>
<ellipse cx="957.2" cy="392.4" rx="2.0" ry="1.0" fill-opacity="0.67"/>
<ellipse cx="965.0" cy="396.1" rx="1.7" ry="0.9" fill-opacity="0.51"/>
<ellipse cx="973.8" cy="390.6" rx="2.0" ry="1.0" fill-opacity="0.81"/>
<ellipse cx="981.3" cy="393.7" rx="1.7" ry="0.9" fill-opacity="0.57"/>
<ellipse cx="983.8" cy="391.9" rx="2.0" ry="1.0" fill-opacity="0.69"/>
<ellipse cx="991.5" cy="395.1" rx="1.7" ry="0.9" fill-opacity="0.52"/>
<ellipse cx="999.3" cy="392.1" rx="2.0" ry="1.0" fill-opacity="0.75"/>
<ellipse cx="1013.0" cy="392.3" rx="2.0" ry="1.0" fill-opacity="0.56"/>
<ellipse cx="1020.5" cy="396.1" rx="1.7" ry="0.9" fill-opacity="0.45"/>
<ellipse cx="1024.0" cy="392.3" rx="2.0" ry="1.0" fill-opacity="0.43"/>
<ellipse cx="1036.9" cy="390.9" rx="2.0" ry="1.0" fill-opacity="0.64"/>
<ellipse cx="1043.1" cy="394.9" rx="1.7" ry="0.9" fill-opacity="0.49"/>
<ellipse cx="1055.6" cy="390.9" rx="2.0" ry="1.0" fill-opacity="0.66"/>
<ellipse cx="1063.3" cy="394.3" rx="1.7" ry="0.9" fill-opacity="0.57"/>
<ellipse cx="1067.5" cy="391.3" rx="2.0" ry="1.0" fill-opacity="0.73"/>
<ellipse cx="1075.1" cy="394.3" rx="1.7" ry="0.9" fill-opacity="0.69"/>
<ellipse cx="4.9" cy="398.5" rx="2.0" ry="1.0" fill-opacity="0.08"/>
<ellipse cx="20.5" cy="399.3" rx="2.0" ry="1.0" fill-opacity="0.08"/>
<ellipse cx="31.6" cy="399.3" rx="2.0" ry="1.0" fill-opacity="0.08"/>
<ellipse cx="43.5" cy="398.4" rx="2.0" ry="1.0" fill-opacity="0.14"/>
<ellipse cx="59.0" cy="399.2" rx="2.0" ry="1.0" fill-opacity="0.10"/>
<ellipse cx="76.3" cy="397.8" rx="2.0" ry="1.0" fill-opacity="0.11"/>
<ellipse cx="89.1" cy="398.8" rx="2.0" ry="1.0" fill-opacity="0.14"/>
<ellipse cx="102.8" cy="399.3" rx="2.0" ry="1.0" fill-opacity="0.31"/>
<ellipse cx="113.6" cy="398.2" rx="2.0" ry="1.0" fill-opacity="0.83"/>
<ellipse cx="121.4" cy="402.3" rx="1.8" ry="0.9" fill-opacity="0.75"/>
<ellipse cx="129.4" cy="398.7" rx="2.0" ry="1.0" fill-opacity="0.93"/>
<ellipse cx="136.7" cy="402.5" rx="1.8" ry="0.9" fill-opacity="0.79"/>
<ellipse cx="140.9" cy="398.5" rx="2.0" ry="1.0" fill-opacity="0.78"/>
<ellipse cx="147.4" cy="402.0" rx="1.8" ry="0.9" fill-opacity="0.59"/>
<ellipse cx="157.3" cy="398.6" rx="2.0" ry="1.0" fill-opacity="0.85"/>
<ellipse cx="165.0" cy="402.2" rx="1.8" ry="0.9" fill-opacity="0.50"/>
<ellipse cx="169.0" cy="398.5" rx="2.0" ry="1.0" fill-opacity="0.57"/>
<ellipse cx="177.0" cy="402.1" rx="1.8" ry="0.9" fill-opacity="0.48"/>
<ellipse cx="183.6" cy="398.7" rx="2.0" ry="1.0" fill-opacity="0.46"/>
<ellipse cx="190.5" cy="402.5" rx="1.8" ry="0.9" fill-opacity="0.57"/>
<ellipse cx="194.4" cy="398.2" rx="2.0" ry="1.0" fill-opacity="0.46"/>
<ellipse cx="201.9" cy="402.3" rx="1.8" ry="0.9" fill-opacity="0.57"/>
<ellipse cx="209.1" cy="397.9" rx="2.0" ry="1.0" fill-opacity="0.39"/>
<ellipse cx="221.0" cy="398.8" rx="2.0" ry="1.0" fill-opacity="0.21"/>
<ellipse cx="237.8" cy="399.6" rx="2.0" ry="1.0" fill-opacity="0.12"/>
<ellipse cx="250.7" cy="398.8" rx="2.0" ry="1.0" fill-opacity="0.16"/>
<ellipse cx="267.7" cy="398.6" rx="2.0" ry="1.0" fill-opacity="0.12"/>
<ellipse cx="281.7" cy="398.2" rx="2.0" ry="1.0" fill-opacity="0.15"/>
<ellipse cx="292.3" cy="398.7" rx="2.0" ry="1.0" fill-opacity="0.15"/>
<ellipse cx="311.3" cy="398.9" rx="2.0" ry="1.0" fill-opacity="0.12"/>
<ellipse cx="321.5" cy="398.6" rx="2.0" ry="1.0" fill-opacity="0.15"/>
<ellipse cx="339.2" cy="399.3" rx="2.0" ry="1.0" fill-opacity="0.14"/>
<ellipse cx="351.5" cy="399.5" rx="2.0" ry="1.0" fill-opacity="0.18"/>
<ellipse cx="365.7" cy="399.0" rx="2.0" ry="1.0" fill-opacity="0.14"/>
<ellipse cx="379.2" cy="399.1" rx="2.0" ry="1.0" fill-opacity="0.17"/>
<ellipse cx="396.0" cy="399.5" rx="2.0" ry="1.0" fill-opacity="0.20"/>
<ellipse cx="408.6" cy="399.0" rx="2.0" ry="1.0" fill-opacity="0.15"/>
<ellipse cx="420.9" cy="399.0" rx="2.0" ry="1.0" fill-opacity="0.18"/>
<ellipse cx="433.7" cy="398.2" rx="2.0" ry="1.0" fill-opacity="0.25"/>
<ellipse cx="451.4" cy="399.0" rx="2.0" ry="1.0" fill-opacity="0.36"/>
<ellipse cx="464.0" cy="399.0" rx="2.0" ry="1.0" fill-opacity="0.54"/>
<ellipse cx="471.8" cy="403.0" rx="1.8" ry="0.9" fill-opacity="0.48"/>
<ellipse cx="479.5" cy="397.9" rx="2.0" ry="1.0" fill-opacity="0.80"/>
<ellipse cx="485.9" cy="401.7" rx="1.8" ry="0.9" fill-opacity="0.76"/>
<ellipse cx="495.0" cy="398.9" rx="2.0" ry="1.0" fill-opacity="0.87"/>
<ellipse cx="502.4" cy="402.9" rx="1.8" ry="0.9" fill-opacity="0.72"/>
<ellipse cx="508.2" cy="397.8" rx="2.0" ry="1.0" fill-opacity="0.71"/>
<ellipse cx="514.7" cy="401.9" rx="1.8" ry="0.9" fill-opacity="0.64"/>
<ellipse cx="523.6" cy="399.6" rx="2.0" ry="1.0" fill-opacity="0.51"/>
<ellipse cx="530.9" cy="403.1" rx="1.8" ry="0.9" fill-opacity="0.61"/>
<ellipse cx="537.4" cy="398.6" rx="2.0" ry="1.0" fill-opacity="0.68"/>
<ellipse cx="545.3" cy="401.8" rx="1.8" ry="0.9" fill-opacity="0.75"/>
<ellipse cx="547.5" cy="398.3" rx="2.0" ry="1.0" fill-opacity="0.81"/>
<ellipse cx="555.2" cy="401.5" rx="1.8" ry="0.9" fill-opacity="0.53"/>
<ellipse cx="563.6" cy="397.7" rx="2.0" ry="1.0" fill-opacity="0.48"/>
<ellipse cx="570.7" cy="401.3" rx="1.8" ry="0.9" fill-opacity="0.52"/>
<ellipse cx="577.9" cy="398.0" rx="2.0" ry="1.0" fill-opacity="0.51"/>
<ellipse cx="585.1" cy="401.9" rx="1.8" ry="0.9" fill-opacity="0.53"/>
<ellipse cx="592.3" cy="397.9" rx="2.0" ry="1.0" fill-opacity="0.38"/>
<ellipse cx="599.1" cy="401.3" rx="1.8" ry="0.9" fill-opacity="0.62"/>
<ellipse cx="603.6" cy="398.9" rx="2.0" ry="1.0" fill-opacity="0.28"/>
<ellipse cx="615.6" cy="398.8" rx="2.0" ry="1.0" fill-opacity="0.38"/>
<ellipse cx="634.9" cy="397.9" rx="2.0" ry="1.0" fill-opacity="0.29"/>
<ellipse cx="647.6" cy="399.6" rx="2.0" ry="1.0" fill-opacity="0.23"/>
<ellipse cx="662.5" cy="398.4" rx="2.0" ry="1.0" fill-opacity="0.24"/>
<ellipse cx="680.2" cy="399.4" rx="2.0" ry="1.0" fill-opacity="0.21"/>
<ellipse cx="694.6" cy="398.7" rx="2.0" ry="1.0" fill-opacity="0.12"/>
<ellipse cx="711.5" cy="399.5" rx="2.0" ry="1.0" fill-opacity="0.12"/>
<ellipse cx="723.9" cy="398.7" rx="2.0" ry="1.0" fill-opacity="0.14"/>
<ellipse cx="739.3" cy="398.8" rx="2.0" ry="1.0" fill-opacity="0.15"/>
<ellipse cx="755.9" cy="398.2" rx="2.0" ry="1.0" fill-opacity="0.14"/>
<ellipse cx="767.2" cy="398.5" rx="2.0" ry="1.0" fill-opacity="0.18"/>
<ellipse cx="785.4" cy="398.2" rx="2.0" ry="1.0" fill-opacity="0.18"/>
<ellipse cx="795.6" cy="398.9" rx="2.0" ry="1.0" fill-opacity="0.14"/>
<ellipse cx="812.5" cy="398.4" rx="2.0" ry="1.0" fill-opacity="0.32"/>
<ellipse cx="823.2" cy="397.9" rx="2.0" ry="1.0" fill-opacity="0.23"/>
<ellipse cx="841.5" cy="398.4" rx="2.0" ry="1.0" fill-opacity="0.39"/>
<ellipse cx="851.6" cy="398.8" rx="2.0" ry="1.0" fill-opacity="0.33"/>
<ellipse cx="867.6" cy="399.5" rx="2.0" ry="1.0" fill-opacity="0.37"/>
<ellipse cx="883.8" cy="398.1" rx="2.0" ry="1.0" fill-opacity="0.43"/>
<ellipse cx="894.2" cy="398.3" rx="2.0" ry="1.0" fill-opacity="0.36"/>
<ellipse cx="901.5" cy="401.6" rx="1.8" ry="0.9" fill-opacity="0.56"/>
<ellipse cx="909.3" cy="397.7" rx="2.0" ry="1.0" fill-opacity="0.49"/>
<ellipse cx="925.4" cy="398.5" rx="2.0" ry="1.0" fill-opacity="0.44"/>
<ellipse cx="941.0" cy="398.6" rx="2.0" ry="1.0" fill-opacity="0.51"/>
<ellipse cx="948.0" cy="402.0" rx="1.8" ry="0.9" fill-opacity="0.41"/>
<ellipse cx="957.3" cy="397.8" rx="2.0" ry="1.0" fill-opacity="0.42"/>
<ellipse cx="964.5" cy="401.2" rx="1.8" ry="0.9" fill-opacity="0.60"/>
<ellipse cx="972.0" cy="398.2" rx="2.0" ry="1.0" fill-opacity="0.50"/>
<ellipse cx="985.2" cy="398.5" rx="2.0" ry="1.0" fill-opacity="0.48"/>
<ellipse cx="999.5" cy="398.4" rx="2.0" ry="1.0" fill-opacity="0.36"/>
<ellipse cx="1011.9" cy="398.2" rx="2.0" ry="1.0" fill-opacity="0.26"/>
<ellipse cx="1023.6" cy="399.0" rx="2.0" ry="1.0" fill-opacity="0.24"/>
<ellipse cx="1041.1" cy="398.2" rx="2.0" ry="1.0" fill-opacity="0.36"/>
<ellipse cx="1055.6" cy="398.3" rx="2.0" ry="1.0" fill-opacity="0.44"/>
<ellipse cx="1064.4" cy="399.4" rx="2.0" ry="1.0" fill-opacity="0.35"/>
<ellipse cx="1079.4" cy="398.4" rx="2.0" ry="1.0" fill-opacity="0.35"/>
<ellipse cx="8.4" cy="406.7" rx="2.1" ry="1.0" fill-opacity="0.09"/>
<ellipse cx="22.8" cy="406.7" rx="2.1" ry="1.0" fill-opacity="0.11"/>
<ellipse cx="40.8" cy="405.8" rx="2.1" ry="1.0" fill-opacity="0.11"/>
<ellipse cx="56.5" cy="406.0" rx="2.1" ry="1.0" fill-opacity="0.13"/>
<ellipse cx="71.2" cy="406.3" rx="2.1" ry="1.0" fill-opacity="0.09"/>
<ellipse cx="82.9" cy="406.4" rx="2.1" ry="1.0" fill-opacity="0.14"/>
<ellipse cx="102.5" cy="406.5" rx="2.1" ry="1.0" fill-opacity="0.16"/>
<ellipse cx="115.6" cy="405.2" rx="2.1" ry="1.0" fill-opacity="0.72"/>
<ellipse cx="122.1" cy="408.7" rx="1.8" ry="0.9" fill-opacity="0.70"/>
<ellipse cx="127.4" cy="406.0" rx="2.1" ry="1.0" fill-opacity="0.44"/>
<ellipse cx="141.9" cy="405.8" rx="2.1" ry="1.0" fill-opacity="0.32"/>
<ellipse cx="161.3" cy="405.0" rx="2.1" ry="1.0" fill-opacity="0.53"/>
<ellipse cx="168.8" cy="409.0" rx="1.8" ry="0.9" fill-opacity="0.49"/>
<ellipse cx="171.6" cy="406.4" rx="2.1" ry="1.0" fill-opacity="0.22"/>
<ellipse cx="188.0" cy="405.8" rx="2.1" ry="1.0" fill-opacity="0.19"/>
<ellipse cx="201.0" cy="406.5" rx="2.1" ry="1.0" fill-opacity="0.17"/>
<ellipse cx="219.2" cy="405.3" rx="2.1" ry="1.0" fill-opacity="0.16"/>
<ellipse cx="230.4" cy="406.8" rx="2.1" ry="1.0" fill-opacity="0.12"/>
<ellipse cx="245.2" cy="406.9" rx="2.1" ry="1.0" fill-opacity="0.16"/>
<ellipse cx="261.0" cy="406.3" rx="2.1" ry="1.0" fill-opacity="0.11"/>
<ellipse cx="275.5" cy="405.3" rx="2.1" ry="1.0" fill-opacity="0.14"/>
<ellipse cx="292.7" cy="406.4" rx="2.1" ry="1.0" fill-opacity="0.11"/>
<ellipse cx="305.6" cy="406.3" rx="2.1" ry="1.0" fill-opacity="0.11"/>
<ellipse cx="321.5" cy="405.7" rx="2.1" ry="1.0" fill-opacity="0.22"/>
<ellipse cx="333.0" cy="405.0" rx="2.1" ry="1.0" fill-opacity="0.28"/>
<ellipse cx="349.3" cy="405.0" rx="2.1" ry="1.0" fill-opacity="0.46"/>
<ellipse cx="361.2" cy="405.7" rx="2.1" ry="1.0" fill-opacity="0.34"/>
<ellipse cx="368.1" cy="409.0" rx="1.8" ry="0.9" fill-opacity="0.36"/>
<ellipse cx="376.2" cy="406.9" rx="2.1" ry="1.0" fill-opacity="0.43"/>
<ellipse cx="383.1" cy="410.7" rx="1.8" ry="0.9" fill-opacity="0.48"/>
<ellipse cx="390.8" cy="405.5" rx="2.1" ry="1.0" fill-opacity="0.47"/>
<ellipse cx="404.6" cy="406.0" rx="2.1" ry="1.0" fill-opacity="0.50"/>
<ellipse cx="412.1" cy="409.7" rx="1.8" ry="0.9" fill-opacity="0.79"/>
<ellipse cx="416.7" cy="406.4" rx="2.1" ry="1.0" fill-opacity="0.68"/>
<ellipse cx="424.4" cy="409.7" rx="1.8" ry="0.9" fill-opacity="0.69"/>
<ellipse cx="431.5" cy="406.4" rx="2.1" ry="1.0" fill-opacity="0.70"/>
<ellipse cx="439.2" cy="410.2" rx="1.8" ry="0.9" fill-opacity="0.48"/>
<ellipse cx="447.4" cy="405.3" rx="2.1" ry="1.0" fill-opacity="0.59"/>
<ellipse cx="459.4" cy="405.7" rx="2.1" ry="1.0" fill-opacity="0.44"/>
<ellipse cx="466.8" cy="409.2" rx="1.8" ry="0.9" fill-opacity="0.41"/>
<ellipse cx="473.5" cy="407.0" rx="2.1" ry="1.0" fill-opacity="0.71"/>
<ellipse cx="481.0" cy="411.1" rx="1.8" ry="0.9" fill-opacity="0.50"/>
<ellipse cx="485.6" cy="405.0" rx="2.1" ry="1.0" fill-opacity="0.66"/>
<ellipse cx="493.7" cy="408.9" rx="1.8" ry="0.9" fill-opacity="0.54"/>
<ellipse cx="496.0" cy="406.1" rx="2.1" ry="1.0" fill-opacity="0.57"/>
<ellipse cx="502.3" cy="409.7" rx="1.8" ry="0.9" fill-opacity="0.74"/>
<ellipse cx="508.1" cy="405.3" rx="2.1" ry="1.0" fill-opacity="0.72"/>
<ellipse cx="522.5" cy="405.7" rx="2.1" ry="1.0" fill-opacity="0.71"/>
<ellipse cx="541.6" cy="406.3" rx="2.1" ry="1.0" fill-opacity="0.29"/>
<ellipse cx="555.8" cy="406.4" rx="2.1" ry="1.0" fill-opacity="0.30"/>
<ellipse cx="569.5" cy="405.5" rx="2.1" ry="1.0" fill-opacity="0.39"/>
<ellipse cx="582.1" cy="405.8" rx="2.1" ry="1.0" fill-opacity="0.18"/>
<ellipse cx="593.8" cy="406.5" rx="2.1" ry="1.0" fill-opacity="0.26"/>
<ellipse cx="610.1" cy="405.4" rx="2.1" ry="1.0" fill-opacity="0.19"/>
<ellipse cx="623.6" cy="406.5" rx="2.1" ry="1.0" fill-opacity="0.11"/>
<ellipse cx="637.9" cy="405.6" rx="2.1" ry="1.0" fill-opacity="0.14"/>
<ellipse cx="655.3" cy="406.4" rx="2.1" ry="1.0" fill-opacity="0.13"/>
<ellipse cx="669.8" cy="405.3" rx="2.1" ry="1.0" fill-opacity="0.15"/>
<ellipse cx="687.6" cy="406.0" rx="2.1" ry="1.0" fill-opacity="0.14"/>
<ellipse cx="701.9" cy="406.4" rx="2.1" ry="1.0" fill-opacity="0.14"/>
<ellipse cx="716.5" cy="405.9" rx="2.1" ry="1.0" fill-opacity="0.16"/>
<ellipse cx="730.6" cy="405.6" rx="2.1" ry="1.0" fill-opacity="0.12"/>
<ellipse cx="743.8" cy="406.6" rx="2.1" ry="1.0" fill-opacity="0.15"/>
<ellipse cx="757.0" cy="406.0" rx="2.1" ry="1.0" fill-opacity="0.12"/>
<ellipse cx="770.0" cy="406.9" rx="2.1" ry="1.0" fill-opacity="0.14"/>
<ellipse cx="781.5" cy="405.6" rx="2.1" ry="1.0" fill-opacity="0.12"/>
<ellipse cx="794.6" cy="405.7" rx="2.1" ry="1.0" fill-opacity="0.13"/>
<ellipse cx="805.6" cy="406.9" rx="2.1" ry="1.0" fill-opacity="0.14"/>
<ellipse cx="819.7" cy="405.7" rx="2.1" ry="1.0" fill-opacity="0.15"/>
<ellipse cx="833.4" cy="406.8" rx="2.1" ry="1.0" fill-opacity="0.17"/>
<ellipse cx="850.7" cy="406.0" rx="2.1" ry="1.0" fill-opacity="0.18"/>
<ellipse cx="864.4" cy="405.1" rx="2.1" ry="1.0" fill-opacity="0.20"/>
<ellipse cx="881.9" cy="405.0" rx="2.1" ry="1.0" fill-opacity="0.29"/>
<ellipse cx="893.1" cy="405.3" rx="2.1" ry="1.0" fill-opacity="0.21"/>
<ellipse cx="906.3" cy="406.4" rx="2.1" ry="1.0" fill-opacity="0.29"/>
<ellipse cx="918.5" cy="405.0" rx="2.1" ry="1.0" fill-opacity="0.18"/>
<ellipse cx="931.2" cy="405.6" rx="2.1" ry="1.0" fill-opacity="0.18"/>
<ellipse cx="948.4" cy="405.9" rx="2.1" ry="1.0" fill-opacity="0.26"/>
<ellipse cx="961.5" cy="405.0" rx="2.1" ry="1.0" fill-opacity="0.23"/>
<ellipse cx="978.6" cy="405.6" rx="2.1" ry="1.0" fill-opacity="0.23"/>
<ellipse cx="992.7" cy="406.2" rx="2.1" ry="1.0" fill-opacity="0.22"/>
<ellipse cx="1011.3" cy="406.9" rx="2.1" ry="1.0" fill-opacity="0.22"/>
<ellipse cx="1026.0" cy="405.3" rx="2.1" ry="1.0" fill-opacity="0.16"/>
<ellipse cx="1040.9" cy="405.0" rx="2.1" ry="1.0" fill-opacity="0.24"/>
<ellipse cx="1052.6" cy="406.8" rx="2.1" ry="1.0" fill-opacity="0.14"/>
<ellipse cx="1068.8" cy="406.5" rx="2.1" ry="1.0" fill-opacity="0.17"/>
<ellipse cx="11.0" cy="412.9" rx="2.2" ry="1.0" fill-opacity="0.13"/>
<ellipse cx="21.8" cy="414.1" rx="2.2" ry="1.0" fill-opacity="0.09"/>
<ellipse cx="35.5" cy="413.7" rx="2.2" ry="1.0" fill-opacity="0.09"/>
<ellipse cx="52.9" cy="413.4" rx="2.2" ry="1.0" fill-opacity="0.11"/>
<ellipse cx="62.1" cy="412.7" rx="2.2" ry="1.0" fill-opacity="0.12"/>
<ellipse cx="74.4" cy="412.8" rx="2.2" ry="1.0" fill-opacity="0.13"/>
<ellipse cx="90.5" cy="413.1" rx="2.2" ry="1.0" fill-opacity="0.10"/>
<ellipse cx="106.7" cy="412.8" rx="2.2" ry="1.0" fill-opacity="0.16"/>
<ellipse cx="121.0" cy="413.8" rx="2.2" ry="1.0" fill-opacity="0.24"/>
<ellipse cx="132.5" cy="414.2" rx="2.2" ry="1.0" fill-opacity="0.27"/>
<ellipse cx="145.6" cy="413.8" rx="2.2" ry="1.0" fill-opacity="0.19"/>
<ellipse cx="160.9" cy="413.6" rx="2.2" ry="1.0" fill-opacity="0.20"/>
<ellipse cx="177.7" cy="413.6" rx="2.2" ry="1.0" fill-opacity="0.12"/>
<ellipse cx="190.1" cy="413.9" rx="2.2" ry="1.0" fill-opacity="0.17"/>
<ellipse cx="205.7" cy="412.6" rx="2.2" ry="1.0" fill-opacity="0.15"/>
<ellipse cx="223.4" cy="414.4" rx="2.2" ry="1.0" fill-opacity="0.14"/>
<ellipse cx="238.3" cy="412.5" rx="2.2" ry="1.0" fill-opacity="0.10"/>
<ellipse cx="248.7" cy="413.5" rx="2.2" ry="1.0" fill-opacity="0.08"/>
<ellipse cx="266.2" cy="413.9" rx="2.2" ry="1.0" fill-opacity="0.10"/>
<ellipse cx="284.8" cy="413.5" rx="2.2" ry="1.0" fill-opacity="0.13"/>
<ellipse cx="299.4" cy="412.9" rx="2.2" ry="1.0" fill-opacity="0.14"/>
<ellipse cx="315.0" cy="414.5" rx="2.2" ry="1.0" fill-opacity="0.41"/>
<ellipse cx="321.7" cy="418.2" rx="1.9" ry="0.9" fill-opacity="0.52"/>
<ellipse cx="330.4" cy="414.5" rx="2.2" ry="1.0" fill-opacity="0.63"/>
<ellipse cx="337.3" cy="418.7" rx="1.9" ry="0.9" fill-opacity="0.75"/>
<ellipse cx="343.2" cy="413.8" rx="2.2" ry="1.0" fill-opacity="0.48"/>
<ellipse cx="350.0" cy="417.7" rx="1.9" ry="0.9" fill-opacity="0.66"/>
<ellipse cx="358.9" cy="412.8" rx="2.2" ry="1.0" fill-opacity="0.56"/>
<ellipse cx="365.8" cy="416.7" rx="1.9" ry="0.9" fill-opacity="0.69"/>
<ellipse cx="370.9" cy="413.4" rx="2.2" ry="1.0" fill-opacity="0.54"/>
<ellipse cx="378.6" cy="417.4" rx="1.9" ry="0.9" fill-opacity="0.75"/>
<ellipse cx="390.1" cy="412.7" rx="2.2" ry="1.0" fill-opacity="0.53"/>
<ellipse cx="397.1" cy="416.2" rx="1.9" ry="0.9" fill-opacity="0.64"/>
<ellipse cx="404.4" cy="413.0" rx="2.2" ry="1.0" fill-opacity="0.63"/>
<ellipse cx="412.2" cy="416.6" rx="1.9" ry="0.9" fill-opacity="0.68"/>
<ellipse cx="421.4" cy="412.7" rx="2.2" ry="1.0" fill-opacity="0.41"/>
<ellipse cx="428.2" cy="416.9" rx="1.9" ry="0.9" fill-opacity="0.36"/>
<ellipse cx="433.7" cy="414.4" rx="2.2" ry="1.0" fill-opacity="0.22"/>
<ellipse cx="448.7" cy="412.6" rx="2.2" ry="1.0" fill-opacity="0.35"/>
<ellipse cx="460.1" cy="413.2" rx="2.2" ry="1.0" fill-opacity="0.46"/>
<ellipse cx="474.4" cy="413.2" rx="2.2" ry="1.0" fill-opacity="0.37"/>
<ellipse cx="481.4" cy="417.3" rx="1.9" ry="0.9" fill-opacity="0.44"/>
<ellipse cx="486.5" cy="414.1" rx="2.2" ry="1.0" fill-opacity="0.32"/>
<ellipse cx="503.1" cy="414.4" rx="2.2" ry="1.0" fill-opacity="0.31"/>
<ellipse cx="515.3" cy="414.0" rx="2.2" ry="1.0" fill-opacity="0.27"/>
<ellipse cx="523.3" cy="417.9" rx="1.9" ry="0.9" fill-opacity="0.36"/>
<ellipse cx="530.4" cy="412.9" rx="2.2" ry="1.0" fill-opacity="0.40"/>
<ellipse cx="550.0" cy="412.5" rx="2.2" ry="1.0" fill-opacity="0.15"/>
<ellipse cx="562.9" cy="414.4" rx="2.2" ry="1.0" fill-opacity="0.12"/>
<ellipse cx="578.6" cy="412.6" rx="2.2" ry="1.0" fill-opacity="0.21"/>
<ellipse cx="591.1" cy="414.1" rx="2.2" ry="1.0" fill-opacity="0.15"/>
<ellipse cx="605.3" cy="413.8" rx="2.2" ry="1.0" fill-opacity="0.10"/>
<ellipse cx="624.8" cy="413.8" rx="2.2" ry="1.0" fill-opacity="0.14"/>
<ellipse cx="642.6" cy="413.9" rx="2.2" ry="1.0" fill-opacity="0.11"/>
<ellipse cx="655.2" cy="412.6" rx="2.2" ry="1.0" fill-opacity="0.08"/>
<ellipse cx="670.4" cy="413.4" rx="2.2" ry="1.0" fill-opacity="0.09"/>
<ellipse cx="679.0" cy="413.2" rx="2.2" ry="1.0" fill-opacity="0.10"/>
<ellipse cx="695.3" cy="414.5" rx="2.2" ry="1.0" fill-opacity="0.15"/>
<ellipse cx="707.5" cy="412.8" rx="2.2" ry="1.0" fill-opacity="0.11"/>
<ellipse cx="720.7" cy="414.1" rx="2.2" ry="1.0" fill-opacity="0.09"/>
<ellipse cx="739.0" cy="413.8" rx="2.2" ry="1.0" fill-opacity="0.08"/>
<ellipse cx="751.7" cy="414.4" rx="2.2" ry="1.0" fill-opacity="0.09"/>
<ellipse cx="767.2" cy="414.2" rx="2.2" ry="1.0" fill-opacity="0.09"/>
<ellipse cx="777.5" cy="413.9" rx="2.2" ry="1.0" fill-opacity="0.10"/>
<ellipse cx="793.8" cy="413.8" rx="2.2" ry="1.0" fill-opacity="0.10"/>
<ellipse cx="809.9" cy="414.4" rx="2.2" ry="1.0" fill-opacity="0.09"/>
<ellipse cx="824.1" cy="412.9" rx="2.2" ry="1.0" fill-opacity="0.14"/>
<ellipse cx="839.6" cy="414.3" rx="2.2" ry="1.0" fill-opacity="0.10"/>
<ellipse cx="854.8" cy="414.5" rx="2.2" ry="1.0" fill-opacity="0.12"/>
<ellipse cx="869.7" cy="413.0" rx="2.2" ry="1.0" fill-opacity="0.17"/>
<ellipse cx="881.7" cy="414.2" rx="2.2" ry="1.0" fill-opacity="0.16"/>
<ellipse cx="895.6" cy="414.5" rx="2.2" ry="1.0" fill-opacity="0.13"/>
<ellipse cx="910.7" cy="413.9" rx="2.2" ry="1.0" fill-opacity="0.13"/>
<ellipse cx="922.8" cy="413.8" rx="2.2" ry="1.0" fill-opacity="0.12"/>
<ellipse cx="938.7" cy="414.0" rx="2.2" ry="1.0" fill-opacity="0.11"/>
<ellipse cx="958.7" cy="413.2" rx="2.2" ry="1.0" fill-opacity="0.10"/>
<ellipse cx="969.3" cy="414.5" rx="2.2" ry="1.0" fill-opacity="0.16"/>
<ellipse cx="980.4" cy="413.6" rx="2.2" ry="1.0" fill-opacity="0.13"/>
<ellipse cx="998.8" cy="414.2" rx="2.2" ry="1.0" fill-opacity="0.10"/>
<ellipse cx="1014.8" cy="413.4" rx="2.2" ry="1.0" fill-opacity="0.10"/>
<ellipse cx="1026.9" cy="413.1" rx="2.2" ry="1.0" fill-opacity="0.14"/>
<ellipse cx="1040.6" cy="412.7" rx="2.2" ry="1.0" fill-opacity="0.09"/>
<ellipse cx="1058.4" cy="413.4" rx="2.2" ry="1.0" fill-opacity="0.10"/>
<ellipse cx="1074.3" cy="414.1" rx="2.2" ry="1.0" fill-opacity="0.09"/>
  </g></g>
</svg>

<svg class="a" style="left:0;top:0;" width="1080" height="260" viewBox="0 0 1080 260">
<defs><filter id="pb" color-interpolation-filters="sRGB" x="-50%" y="-50%" width="200%" height="200%"><feGaussianBlur stdDeviation="1"/></filter></defs>
<g stroke="#0e2a2e" stroke-width="1" opacity="0.25">
<line x1="988.5" y1="40" x2="988.5" y2="115"/><line x1="1043.5" y1="20" x2="1043.5" y2="140"/><line x1="1054.5" y1="60" x2="1054.5" y2="180"/><line x1="1076.5" y1="0" x2="1076.5" y2="120"/>
<line x1="65.5" y1="124" x2="65.5" y2="176"/><line x1="0" y1="155.5" x2="100" y2="155.5"/><line x1="88.5" y1="122" x2="88.5" y2="152"/>
</g>
<g fill="#2f9c90" filter="url(#pb)">
<circle cx="47" cy="17" r="1.6" fill-opacity="0.45"/><circle cx="92" cy="20" r="1.6" fill-opacity="0.35"/><circle cx="110" cy="53" r="1.6" fill-opacity="0.35"/>
<circle cx="8" cy="57" r="2.0" fill-opacity="0.5"/>
<circle cx="73" cy="58" r="1.6" fill-opacity="0.7"/>
<circle cx="110" cy="56" r="1.6" fill-opacity="0.5"/>
<circle cx="87" cy="72" r="2.0" fill-opacity="0.7"/>
<circle cx="14" cy="132" r="1.6" fill-opacity="0.5"/>
<circle cx="19" cy="146" r="1.6" fill-opacity="0.7"/>
<circle cx="83" cy="146" r="2.0" fill-opacity="0.5"/>
<circle cx="101" cy="156" r="1.6" fill-opacity="0.7"/>
<circle cx="126" cy="150" r="1.6" fill-opacity="0.5"/>
<circle cx="32" cy="162" r="2.0" fill-opacity="0.7"/>
<circle cx="65" cy="173" r="1.6" fill-opacity="0.5"/>
<circle cx="10" cy="156" r="1.6" fill-opacity="0.7"/>
<circle cx="65" cy="204" r="2.0" fill-opacity="0.5"/>
<circle cx="145" cy="86" r="1.6" fill-opacity="0.7"/>
<circle cx="137" cy="102" r="1.6" fill-opacity="0.5"/>
<circle cx="188" cy="87" r="2.0" fill-opacity="0.7"/>
<circle cx="50" cy="95" r="1.6" fill-opacity="0.5"/>
<circle cx="942" cy="10" r="1.6" fill-opacity="0.7"/>
<circle cx="1006" cy="19" r="2.0" fill-opacity="0.5"/>
<circle cx="916" cy="43" r="1.6" fill-opacity="0.7"/>
<circle cx="930" cy="48" r="1.6" fill-opacity="0.5"/>
<circle cx="1009" cy="50" r="2.0" fill-opacity="0.7"/>
<circle cx="1026" cy="62" r="1.6" fill-opacity="0.5"/>
<circle cx="1052" cy="76" r="1.6" fill-opacity="0.7"/>
<circle cx="1068" cy="62" r="2.0" fill-opacity="0.5"/>
<circle cx="1035" cy="95" r="1.6" fill-opacity="0.7"/>
<circle cx="1033" cy="119" r="1.6" fill-opacity="0.5"/>
<circle cx="1016" cy="138" r="2.0" fill-opacity="0.7"/>
<circle cx="1071" cy="136" r="1.6" fill-opacity="0.5"/>
<circle cx="937" cy="174" r="1.6" fill-opacity="0.7"/>
<circle cx="1061" cy="167" r="2.0" fill-opacity="0.5"/>
<circle cx="994" cy="39" r="1.6" fill-opacity="0.7"/>
<circle cx="971" cy="56" r="1.6" fill-opacity="0.5"/>
</g>
</svg>
<div class="a" id="vline"></div>
<div class="a title" style="left:25px;top:24.5px;">深圳用户兴趣类别分布</div>
<div class="a title" style="left:255px;top:24.5px;">单位:（万）</div>

<div class="a box" style="left:76px;top:79px;width:57px;height:26px;line-height:23px;padding-right:1.5px;"><span class="bt">阅读数</span></div>
<div class="a box" style="left:949px;top:340px;width:56px;height:26px;line-height:23px;background:rgba(6,26,30,0.85);border-color:#b0c6ca;"><span class="bt">关键词</span></div>

<div class="a leg" style="left:833px;top:62px;">2017年城市数据<span class="cy">房产</span>排名<span class="yw">第二</span></div>
<div class="a leg" style="left:833px;top:83.5px;">2018年城市数据<span class="cy">房产</span>排名<span class="yw">第五</span></div>

<div class="a yl" style="left:113.6px;top:86px;">100000</div>
<div class="a yl" style="left:113.6px;top:134.5px;">80000</div>
<div class="a yl" style="left:113.6px;top:183.2px;">60000</div>
<div class="a yl" style="left:113.6px;top:231.2px;">40000</div>
<div class="a yl" style="left:113.6px;top:279.2px;">20000</div>
<div class="a yl" style="left:113.6px;top:327px;">0</div>

<div class="a" id="axis"></div>
<div class="a bar" style="left:228.50px;top:94.87px;height:241.63px;"></div>
<div class="a vl" style="left:193.00px;top:74.87px;">100468.46</div>
<div class="a xl" style="left:207.00px;top:355px;">科技</div>
<div class="a bar" style="left:301.90px;top:102.79px;height:233.71px;"></div>
<div class="a vl" style="left:266.40px;top:82.79px;">97178.215</div>
<div class="a xl" style="left:280.40px;top:355px;">文化</div>
<div class="a bar" style="left:374.30px;top:104.90px;height:231.60px;"></div>
<div class="a vl" style="left:338.80px;top:84.90px;">96300.825</div>
<div class="a xl" style="left:352.80px;top:355px;">娱乐</div>
<div class="a bar" style="left:446.70px;top:120.89px;height:215.61px;"></div>
<div class="a vl" style="left:411.20px;top:100.89px;">89652.245</div>
<div class="a xl" style="left:425.20px;top:355px;">汽车</div>
<div class="a bar" style="left:519.10px;top:136.04px;height:200.46px;"></div>
<div class="a vl" style="left:483.60px;top:116.04px;">83349.835</div>
<div class="a xl" style="left:497.60px;top:355px;">法律</div>
<div class="a bar" style="left:591.30px;top:144.46px;height:192.04px;"></div>
<div class="a vl" style="left:555.80px;top:124.46px;">79851.325</div>
<div class="a xl" style="left:569.80px;top:355px;">游戏</div>
<div class="a bar" style="left:663.70px;top:240.53px;height:95.97px;"></div>
<div class="a vl" style="left:628.20px;top:220.53px;">39906.365</div>
<div class="a xl" style="left:642.20px;top:355px;">体育</div>
<div class="a bar" style="left:736.80px;top:277.56px;height:58.94px;"></div>
<div class="a vl" style="left:701.30px;top:257.56px;">24508.95</div>
<div class="a xl" style="left:715.30px;top:355px;">房产</div>
<div class="a bar" style="left:809.30px;top:309.54px;height:26.96px;"></div>
<div class="a vl" style="left:773.80px;top:289.54px;">11211.975</div>
<div class="a xl" style="left:787.80px;top:355px;">餐饮</div>
<div class="a bar" style="left:882.00px;top:326.39px;height:10.11px;"></div>
<div class="a vl" style="left:846.50px;top:306.39px;">4204.495</div>
<div class="a xl" style="left:860.50px;top:355px;">母婴</div>

<svg class="a" style="left:198px;top:338px;" width="24" height="28" viewBox="0 0 24 28">
  <defs>
    <linearGradient id="fg" gradientUnits="userSpaceOnUse" x1="0" y1="2.5" x2="0" y2="25.5">
      <stop offset="0" stop-color="#eaa050"/>
      <stop offset="0.22" stop-color="#ee6a50"/>
      <stop offset="0.5" stop-color="#ee4064"/>
      <stop offset="0.8" stop-color="#dc3c84"/>
      <stop offset="1" stop-color="#8a4cc4"/>
    </linearGradient>
    <filter id="fb" color-interpolation-filters="sRGB" x="-20%" y="-20%" width="140%" height="140%"><feGaussianBlur stdDeviation="0.45"/></filter>
  </defs>
  <path filter="url(#fb)" d="M11.7 2.5 C12.8 5 14 8 14.6 12.5 L15.2 13.2 C16 11.8 17 10.5 17.7 9.8 C19 12.5 20.4 15.5 20.4 19 C20.4 22.5 19.8 24.6 18.5 25.3 L15.2 25.3 L12.2 18.8 L9.6 25.3 L5.5 25.3 C4.2 24.8 3.5 22.5 3.5 20 C3.5 17.2 4.3 15 5.4 12.6 C6.2 12.8 7 12.4 7.8 11.4 C8.6 8.6 10.8 5.5 11.7 2.5 Z" fill="url(#fg)"/>
</svg>

<div class="a src" style="left:19.5px;top:363.8px;">数据来源：头条指数</div>
<div class="a src" style="left:19.5px;top:377.8px;">数据时间：<span class="d">2019</span>年<span class="d">1</span>月<span class="d">1</span>日—<span class="d">2019</span>年<span class="d">10</span>月<span class="d">31</span>日</div>
<div class="a src" style="left:19.5px;top:393.6px;">数据维度：阅读数</div>
</body></html>
